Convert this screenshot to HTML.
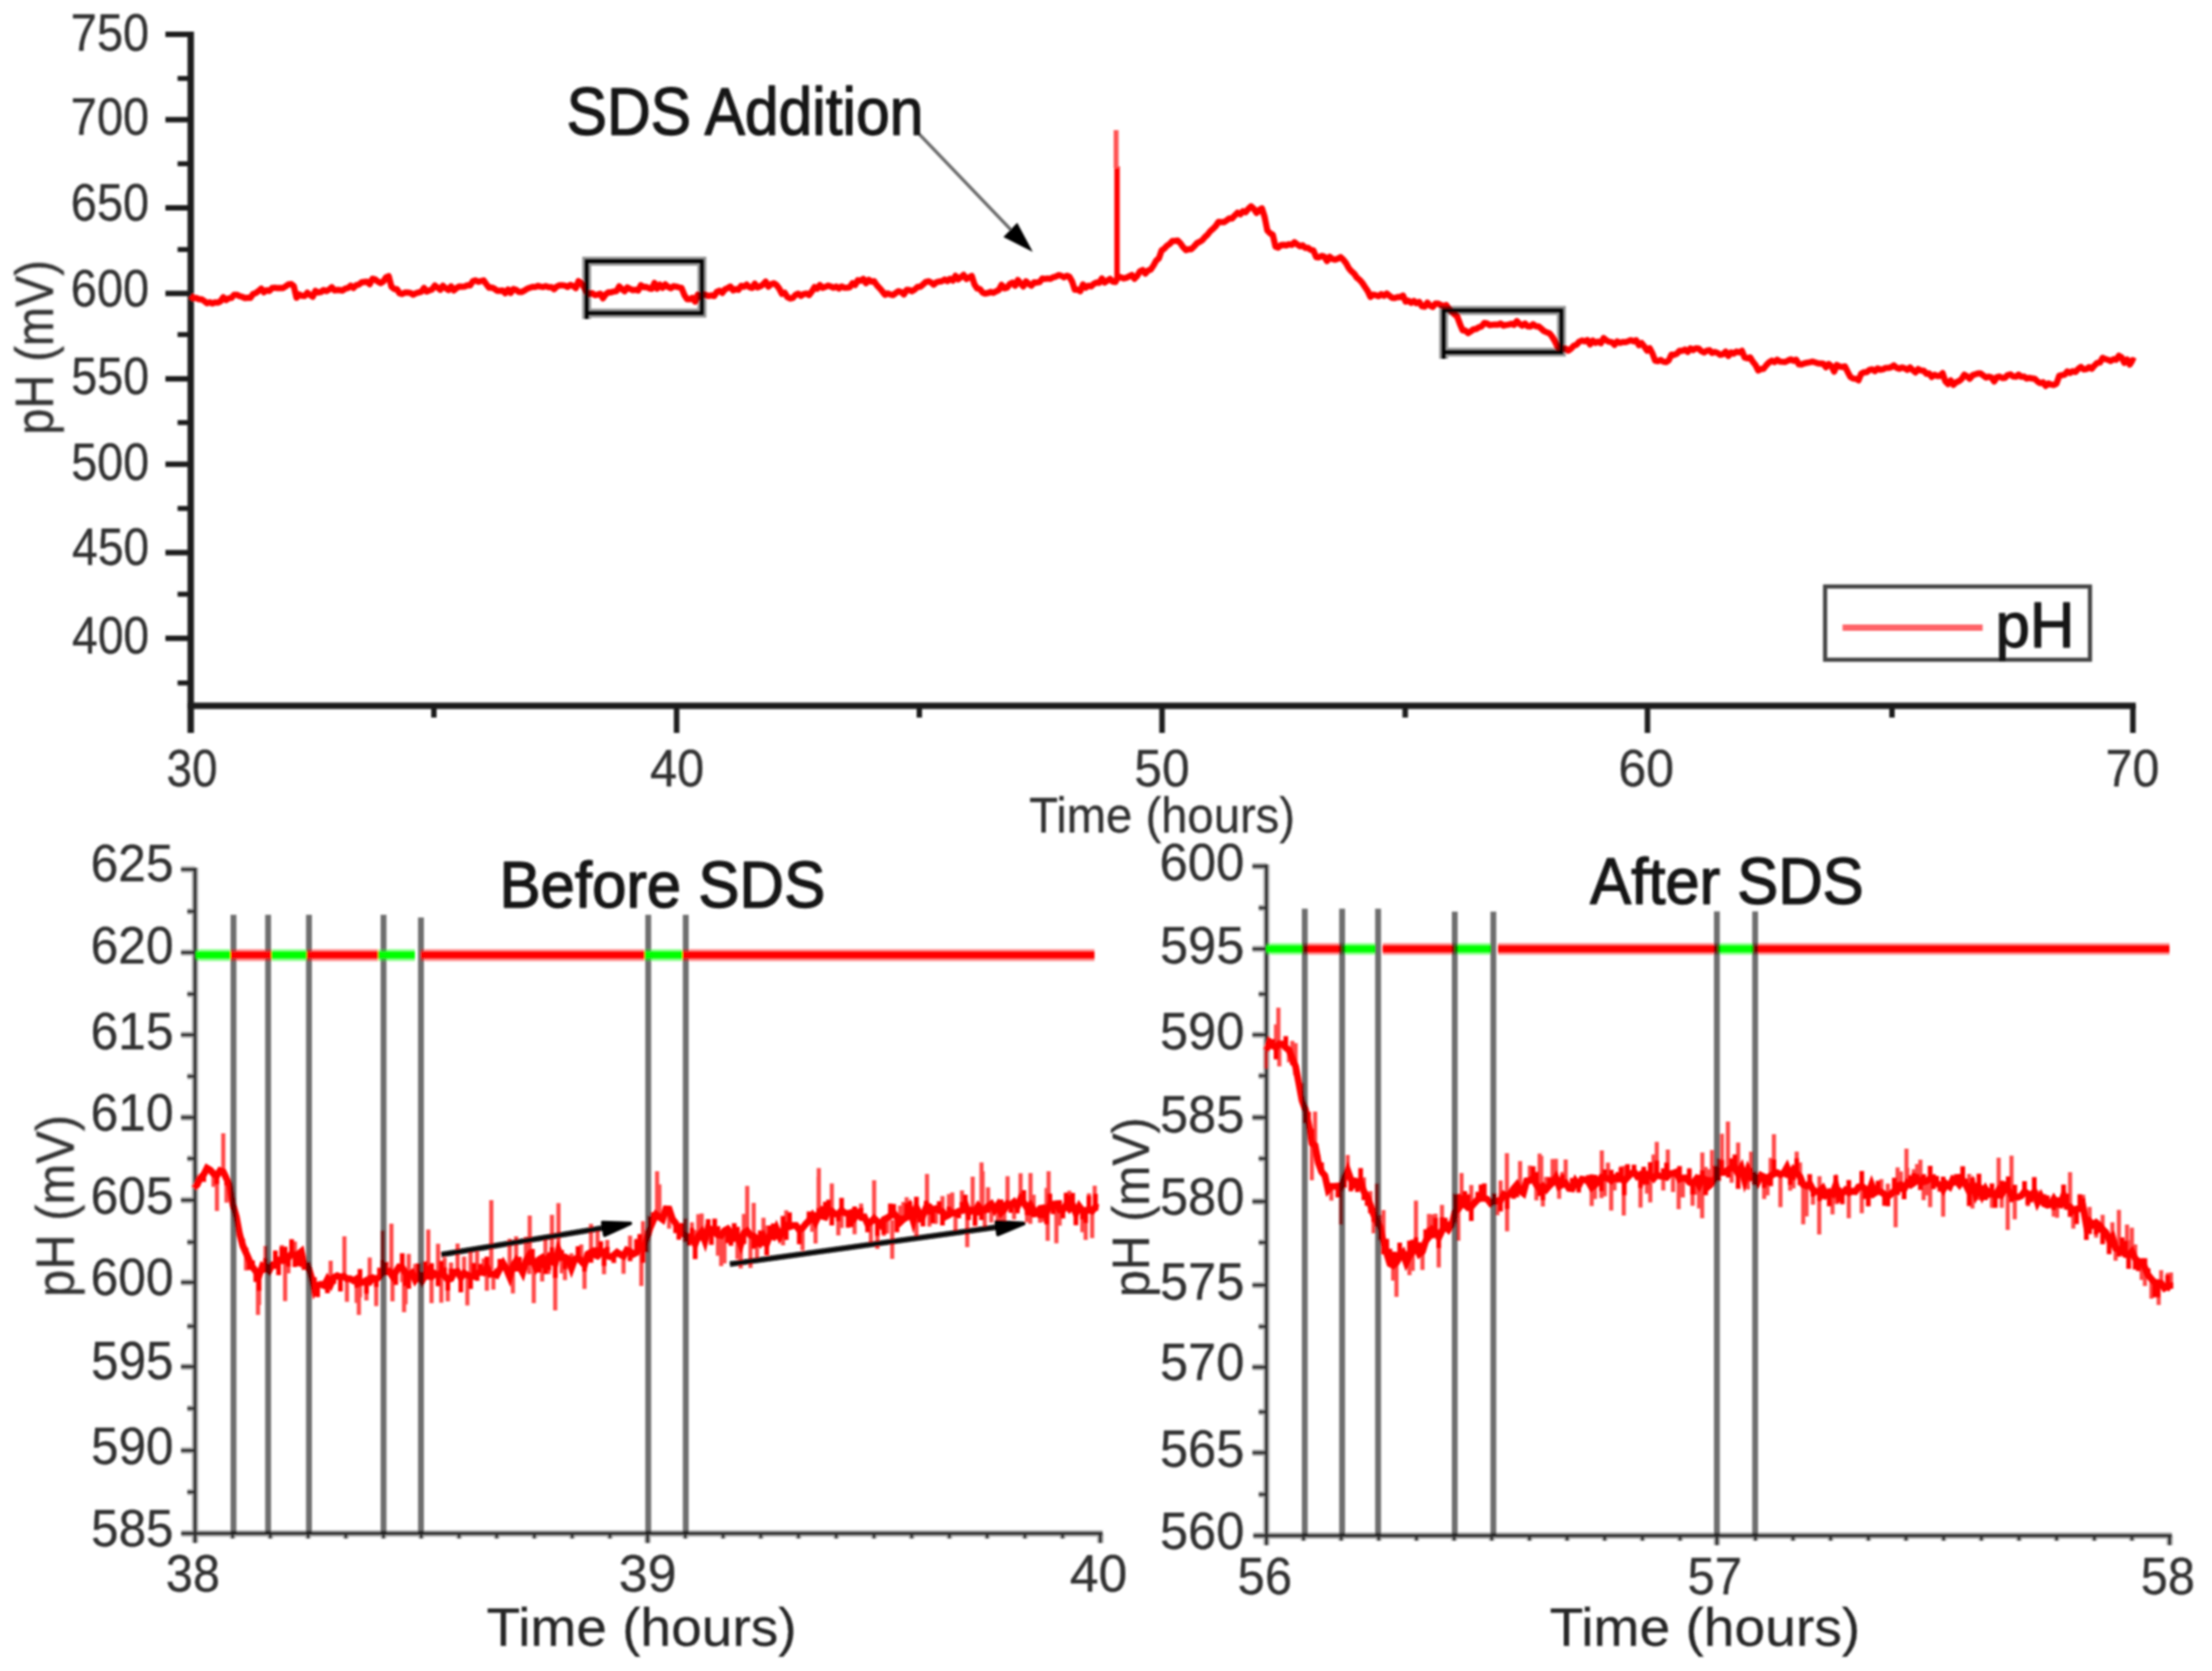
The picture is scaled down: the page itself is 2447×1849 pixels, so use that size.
<!DOCTYPE html>
<html lang="en"><head><meta charset="utf-8"><title>pH vs time with SDS addition</title>
<style>
html,body{margin:0;padding:0;background:#fff;}
body{width:2447px;height:1849px;overflow:hidden;font-family:"Liberation Sans",Arial,sans-serif;}
svg{display:block;}
</style></head><body>
<svg width="2447" height="1849" viewBox="0 0 2447 1849">
<defs><filter id="b" x="0" y="0" width="2447" height="1849" filterUnits="userSpaceOnUse"><feGaussianBlur stdDeviation="1.25"/></filter></defs>
<rect width="2447" height="1849" fill="#ffffff"/>
<g filter="url(#b)">
<g stroke="#1c1c1c" fill="none" stroke-linecap="butt">
<line x1="211" y1="35" x2="211" y2="811" stroke-width="7"/>
<line x1="207.5" y1="781" x2="2362.7" y2="781" stroke-width="7"/>
<line x1="183" y1="38" x2="211" y2="38" stroke-width="6"/>
<line x1="183" y1="132.4" x2="211" y2="132.4" stroke-width="6"/>
<line x1="183" y1="230" x2="211" y2="230" stroke-width="6"/>
<line x1="183" y1="324.7" x2="211" y2="324.7" stroke-width="6"/>
<line x1="183" y1="419.2" x2="211" y2="419.2" stroke-width="6"/>
<line x1="183" y1="513.7" x2="211" y2="513.7" stroke-width="6"/>
<line x1="183" y1="611.5" x2="211" y2="611.5" stroke-width="6"/>
<line x1="183" y1="706.3" x2="211" y2="706.3" stroke-width="6"/>
<line x1="196.5" y1="86.8" x2="211" y2="86.8" stroke-width="5.5"/>
<line x1="196.5" y1="181.2" x2="211" y2="181.2" stroke-width="5.5"/>
<line x1="196.5" y1="276.1" x2="211" y2="276.1" stroke-width="5.5"/>
<line x1="196.5" y1="370.2" x2="211" y2="370.2" stroke-width="5.5"/>
<line x1="196.5" y1="467.6" x2="211" y2="467.6" stroke-width="5.5"/>
<line x1="196.5" y1="562.6" x2="211" y2="562.6" stroke-width="5.5"/>
<line x1="196.5" y1="657.5" x2="211" y2="657.5" stroke-width="5.5"/>
<line x1="196.5" y1="755.7" x2="211" y2="755.7" stroke-width="5.5"/>
<line x1="748.5" y1="781" x2="748.5" y2="811" stroke-width="6"/>
<line x1="1285.5" y1="781" x2="1285.5" y2="811" stroke-width="6"/>
<line x1="1822.5" y1="781" x2="1822.5" y2="811" stroke-width="6"/>
<line x1="2359.5" y1="781" x2="2359.5" y2="811" stroke-width="6"/>
<line x1="480" y1="781" x2="480" y2="794" stroke-width="6"/>
<line x1="1017" y1="781" x2="1017" y2="794" stroke-width="6"/>
<line x1="1554.5" y1="781" x2="1554.5" y2="794" stroke-width="6"/>
<line x1="2093" y1="781" x2="2093" y2="794" stroke-width="6"/>
</g>
<polyline points="211.0,327.2 214.0,329.8 217.0,329.8 220.0,331.0 223.0,331.2 226.0,333.1 229.0,335.5 232.0,334.5 235.0,335.7 238.0,334.6 241.0,334.8 244.0,333.3 247.0,328.9 250.0,332.0 253.0,330.1 256.0,329.7 259.0,326.1 262.0,326.1 265.0,327.7 268.0,328.5 271.0,329.9 274.0,329.5 277.0,329.6 280.0,325.2 283.0,324.3 286.0,322.0 289.0,319.4 292.0,323.3 295.0,321.1 298.0,322.0 301.0,318.7 304.0,318.3 307.0,318.8 310.0,318.6 313.0,318.7 316.0,316.9 319.0,314.7 322.0,314.3 325.0,316.5 328.0,329.5 331.0,325.9 334.0,327.4 337.0,327.5 340.0,324.0 343.0,326.4 346.0,328.4 349.0,321.8 352.0,323.7 355.0,323.1 358.0,320.9 361.0,322.1 364.0,320.5 367.0,317.8 370.0,321.4 373.0,320.8 376.0,321.0 379.0,321.5 382.0,319.4 385.0,318.7 388.0,316.0 391.0,318.7 394.0,315.6 397.0,314.9 400.0,312.5 403.0,312.0 406.0,311.7 409.0,314.5 412.0,308.5 415.0,309.1 418.0,311.6 421.0,313.3 424.0,311.5 427.0,307.0 430.0,305.6 433.0,317.1 436.0,319.8 439.0,320.0 442.0,324.5 445.0,325.3 448.0,323.7 451.0,323.8 454.0,324.1 457.0,326.1 460.0,324.5 463.0,323.6 466.0,322.9 469.0,318.6 472.0,322.6 475.0,321.3 478.0,320.2 481.0,315.9 484.0,318.2 487.0,320.7 490.0,316.2 493.0,319.0 496.0,321.0 499.0,316.9 502.0,321.3 505.0,318.8 508.0,317.0 511.0,317.2 514.0,317.1 517.0,315.6 520.0,315.9 523.0,311.3 526.0,310.2 529.0,311.8 532.0,311.0 535.0,310.3 538.0,314.5 541.0,318.4 544.0,318.1 547.0,319.5 550.0,321.8 553.0,321.7 556.0,321.5 559.0,324.4 562.0,320.3 565.0,324.1 568.0,319.8 571.0,320.7 574.0,323.1 577.0,323.0 580.0,321.6 583.0,319.7 586.0,318.4 589.0,317.4 592.0,317.6 595.0,316.3 598.0,317.1 601.0,317.6 604.0,316.6 607.0,317.9 610.0,317.6 613.0,320.0 616.0,317.1 619.0,315.7 622.0,315.7 625.0,316.1 628.0,317.6 631.0,315.3 634.0,316.4 637.0,318.8 640.0,311.1 643.0,313.5 646.0,317.8 649.0,323.4 652.0,325.3 655.0,324.4 658.0,326.5 661.0,326.1 664.0,325.0 667.0,330.1 670.0,325.8 673.0,323.5 676.0,323.6 679.0,322.6 682.0,322.1 685.0,316.9 688.0,319.9 691.0,322.1 694.0,318.1 697.0,319.7 700.0,321.1 703.0,320.7 706.0,321.5 709.0,315.7 712.0,317.7 715.0,317.5 718.0,319.0 721.0,319.6 724.0,313.1 727.0,319.4 730.0,315.0 733.0,318.5 736.0,314.7 739.0,317.4 742.0,319.0 745.0,316.7 748.0,317.1 751.0,318.0 754.0,318.7 757.0,326.3 760.0,331.0 763.0,331.1 766.0,329.5 769.0,333.7 772.0,326.1 775.0,328.6 778.0,325.7 781.0,326.4 784.0,327.5 787.0,326.8 790.0,327.6 793.0,323.0 796.0,321.8 799.0,324.1 802.0,320.2 805.0,318.8 808.0,317.1 811.0,321.3 814.0,319.9 817.0,320.7 820.0,316.2 823.0,317.3 826.0,314.9 829.0,317.7 832.0,318.6 835.0,314.0 838.0,318.1 841.0,316.9 844.0,314.8 847.0,311.6 850.0,317.2 853.0,314.4 856.0,313.4 859.0,315.4 862.0,319.4 865.0,325.2 868.0,323.8 871.0,328.7 874.0,330.3 877.0,329.7 880.0,326.4 883.0,324.9 886.0,327.4 889.0,325.3 892.0,324.8 895.0,326.5 898.0,322.7 901.0,317.7 904.0,319.4 907.0,315.4 910.0,318.5 913.0,317.5 916.0,316.0 919.0,317.0 922.0,318.4 925.0,317.1 928.0,319.3 931.0,316.9 934.0,318.3 937.0,318.4 940.0,317.9 943.0,313.4 946.0,315.4 949.0,310.0 952.0,310.7 955.0,308.6 958.0,313.4 961.0,309.5 964.0,311.6 967.0,311.3 970.0,315.6 973.0,318.8 976.0,322.3 979.0,326.2 982.0,324.6 985.0,325.9 988.0,326.5 991.0,324.2 994.0,322.2 997.0,323.2 1000.0,325.8 1003.0,320.7 1006.0,321.0 1009.0,322.2 1012.0,320.3 1015.0,317.5 1018.0,317.4 1021.0,314.8 1024.0,312.1 1027.0,311.2 1030.0,312.6 1033.0,315.0 1036.0,312.3 1039.0,311.5 1042.0,311.2 1045.0,309.3 1048.0,311.0 1051.0,308.5 1054.0,310.5 1057.0,305.2 1060.0,309.1 1063.0,306.8 1066.0,304.2 1069.0,308.7 1072.0,307.0 1075.0,305.4 1078.0,314.8 1081.0,319.2 1084.0,319.8 1087.0,323.8 1090.0,324.9 1093.0,324.2 1096.0,323.0 1099.0,324.0 1102.0,322.3 1105.0,320.8 1108.0,315.2 1111.0,319.0 1114.0,318.4 1117.0,314.4 1120.0,312.8 1123.0,316.2 1126.0,309.9 1129.0,313.7 1132.0,317.0 1135.0,311.3 1138.0,314.1 1141.0,316.1 1144.0,312.5 1147.0,312.7 1150.0,312.2 1153.0,308.2 1156.0,308.6 1159.0,308.2 1162.0,308.6 1165.0,306.8 1168.0,306.1 1171.0,304.4 1174.0,305.1 1177.0,306.9 1180.0,305.1 1183.0,306.2 1186.0,311.5 1189.0,320.6 1192.0,320.5 1195.0,322.1 1198.0,314.7 1201.0,318.3 1204.0,316.2 1207.0,316.9 1210.0,314.1 1213.0,312.6 1216.0,313.0 1219.0,308.1 1222.0,312.6 1225.0,310.7 1228.0,308.6 1231.0,311.6 1234.0,312.0 1237.0,306.1 1240.0,306.9 1243.0,308.0 1246.0,307.4 1249.0,305.9 1252.0,304.4 1255.0,308.4 1258.0,305.3 1261.0,300.3 1264.0,298.8 1267.0,302.7 1270.0,299.4 1273.0,298.2 1276.0,293.9 1279.0,288.4 1282.0,285.8 1285.0,277.2 1288.0,275.1 1291.0,271.8 1294.0,269.9 1297.0,266.6 1300.0,266.5 1303.0,266.3 1306.0,269.4 1309.0,273.7 1312.0,276.8 1315.0,275.7 1318.0,275.7 1321.0,272.6 1324.0,269.2 1327.0,267.7 1330.0,265.8 1333.0,262.3 1336.0,259.4 1339.0,255.7 1342.0,253.1 1345.0,250.0 1348.0,245.4 1351.0,245.8 1354.0,245.8 1357.0,243.8 1360.0,241.7 1363.0,241.8 1366.0,238.4 1369.0,235.4 1372.0,237.1 1375.0,233.7 1378.0,234.9 1381.0,231.1 1384.0,228.4 1387.0,231.1 1390.0,235.6 1393.0,232.3 1396.0,230.6 1399.0,240.1 1402.0,255.1 1405.0,258.1 1408.0,259.7 1411.0,272.9 1414.0,273.9 1417.0,271.3 1420.0,271.0 1423.0,271.5 1426.0,270.3 1429.0,271.0 1432.0,268.1 1435.0,270.4 1438.0,272.5 1441.0,271.4 1444.0,274.4 1447.0,274.3 1450.0,276.5 1453.0,277.2 1456.0,284.5 1459.0,284.9 1462.0,283.1 1465.0,284.1 1468.0,288.8 1471.0,284.2 1474.0,286.7 1477.0,287.4 1480.0,286.2 1483.0,284.6 1486.0,287.3 1489.0,291.2 1492.0,296.7 1495.0,300.2 1498.0,302.8 1501.0,307.2 1504.0,309.6 1507.0,313.0 1510.0,317.6 1513.0,322.0 1516.0,328.5 1519.0,326.0 1522.0,326.7 1525.0,327.8 1528.0,325.4 1531.0,327.3 1534.0,324.8 1537.0,327.2 1540.0,329.5 1543.0,329.7 1546.0,328.8 1549.0,328.7 1552.0,327.0 1555.0,333.8 1558.0,332.8 1561.0,335.1 1564.0,333.0 1567.0,335.5 1570.0,334.0 1573.0,338.8 1576.0,339.4 1579.0,334.8 1582.0,338.2 1585.0,339.7 1588.0,335.9 1591.0,336.0 1594.0,337.6 1597.0,338.6 1600.0,337.6 1603.0,342.1 1606.0,344.8 1609.0,347.8 1612.0,350.2 1615.0,358.3 1618.0,365.5 1621.0,365.8 1624.0,368.6 1627.0,366.6 1630.0,364.4 1633.0,364.0 1636.0,362.1 1639.0,361.2 1642.0,357.5 1645.0,358.0 1648.0,359.9 1651.0,359.4 1654.0,359.1 1657.0,359.3 1660.0,358.0 1663.0,360.3 1666.0,359.6 1669.0,359.1 1672.0,358.3 1675.0,359.4 1678.0,355.3 1681.0,358.4 1684.0,360.4 1687.0,358.0 1690.0,361.1 1693.0,361.2 1696.0,358.8 1699.0,361.0 1702.0,361.1 1705.0,363.7 1708.0,366.4 1711.0,367.7 1714.0,368.7 1717.0,372.4 1720.0,377.4 1723.0,383.7 1726.0,386.8 1729.0,385.9 1732.0,385.6 1735.0,388.0 1738.0,385.8 1741.0,382.5 1744.0,381.5 1747.0,378.1 1750.0,376.8 1753.0,377.7 1756.0,376.3 1759.0,381.1 1762.0,376.8 1765.0,379.4 1768.0,377.9 1771.0,379.7 1774.0,374.0 1777.0,376.6 1780.0,378.2 1783.0,378.6 1786.0,381.5 1789.0,377.9 1792.0,379.4 1795.0,378.4 1798.0,378.6 1801.0,377.7 1804.0,376.4 1807.0,377.7 1810.0,376.5 1813.0,381.9 1816.0,379.6 1819.0,383.3 1822.0,388.0 1825.0,385.5 1828.0,391.1 1831.0,399.1 1834.0,399.7 1837.0,398.3 1840.0,400.1 1843.0,400.7 1846.0,398.9 1849.0,392.4 1852.0,392.7 1855.0,391.4 1858.0,388.2 1861.0,388.3 1864.0,386.7 1867.0,389.4 1870.0,385.5 1873.0,387.4 1876.0,385.5 1879.0,385.6 1882.0,388.5 1885.0,390.0 1888.0,388.2 1891.0,387.5 1894.0,390.5 1897.0,389.5 1900.0,390.5 1903.0,392.6 1906.0,391.9 1909.0,389.1 1912.0,393.9 1915.0,390.0 1918.0,391.3 1921.0,388.9 1924.0,389.9 1927.0,388.2 1930.0,395.7 1933.0,396.5 1936.0,395.4 1939.0,400.3 1942.0,403.9 1945.0,409.9 1948.0,408.4 1951.0,408.0 1954.0,404.0 1957.0,401.0 1960.0,399.1 1963.0,400.7 1966.0,398.0 1969.0,400.1 1972.0,400.4 1975.0,400.5 1978.0,399.0 1981.0,397.6 1984.0,399.2 1987.0,398.1 1990.0,403.1 1993.0,403.2 1996.0,402.1 1999.0,401.3 2002.0,400.8 2005.0,400.2 2008.0,401.0 2011.0,402.0 2014.0,402.2 2017.0,402.5 2020.0,406.3 2023.0,402.8 2026.0,405.2 2029.0,411.2 2032.0,403.9 2035.0,405.6 2038.0,406.1 2041.0,405.4 2044.0,411.6 2047.0,417.1 2050.0,418.9 2053.0,419.1 2056.0,420.8 2059.0,413.3 2062.0,412.0 2065.0,411.8 2068.0,409.3 2071.0,408.6 2074.0,410.7 2077.0,407.7 2080.0,409.2 2083.0,408.6 2086.0,407.1 2089.0,407.1 2092.0,406.3 2095.0,404.3 2098.0,406.9 2101.0,408.0 2104.0,406.6 2107.0,407.5 2110.0,409.2 2113.0,406.7 2116.0,409.6 2119.0,412.0 2122.0,408.4 2125.0,410.1 2128.0,410.1 2131.0,413.5 2134.0,413.2 2137.0,417.1 2140.0,414.8 2143.0,416.0 2146.0,416.0 2149.0,413.0 2152.0,421.8 2155.0,425.0 2158.0,421.0 2161.0,425.8 2164.0,423.0 2167.0,421.8 2170.0,419.3 2173.0,414.6 2176.0,416.5 2179.0,419.1 2182.0,415.3 2185.0,414.2 2188.0,413.3 2191.0,413.3 2194.0,415.6 2197.0,417.8 2200.0,416.8 2203.0,417.6 2206.0,422.1 2209.0,417.3 2212.0,416.7 2215.0,418.3 2218.0,418.0 2221.0,415.0 2224.0,414.3 2227.0,416.6 2230.0,416.9 2233.0,414.6 2236.0,416.9 2239.0,416.7 2242.0,418.8 2245.0,418.1 2248.0,418.8 2251.0,419.1 2254.0,422.2 2257.0,423.9 2260.0,422.9 2263.0,427.0 2266.0,424.3 2269.0,425.4 2272.0,426.1 2275.0,424.4 2278.0,415.9 2281.0,415.1 2284.0,414.7 2287.0,411.0 2290.0,412.7 2293.0,410.7 2296.0,411.6 2299.0,408.3 2302.0,406.1 2305.0,408.8 2308.0,408.4 2311.0,406.3 2314.0,408.0 2317.0,404.4 2320.0,401.6 2323.0,401.2 2326.0,396.0 2329.0,397.3 2332.0,398.2 2335.0,399.5 2338.0,397.5 2341.0,398.1 2344.0,393.6 2347.0,395.4 2350.0,401.5 2353.0,397.8 2356.0,403.3 2359.0,398.5 2362.0,399.9" fill="none" stroke="#ff0000" stroke-width="6.9" stroke-linejoin="round"/>
<line x1="1235.7" y1="310" x2="1235.7" y2="184" stroke="#ff0000" stroke-width="6"/>
<line x1="1234.7" y1="186" x2="1234.7" y2="144" stroke="#ff5555" stroke-width="5.5"/>
<g stroke="#000000" stroke-opacity="0.42" fill="none" stroke-width="9.8">
<path d="M649,353 V289 H776.5 V346.5 H649"/>
<path d="M1597,397 V343.5 H1727.3 V389.7 H1597"/>
</g>
<g stroke="#050505" stroke-opacity="1" fill="none" stroke-width="3.9">
<path d="M649,353 V289 H776.5 V346.5 H649"/>
<path d="M1597,397 V343.5 H1727.3 V389.7 H1597"/>
</g>
<line x1="1016" y1="147.5" x2="1119" y2="255" stroke="#6a6a6a" stroke-width="3.6"/>
<polygon points="1142.5,278.8 1110,262.3 1125.3,246.5" fill="#050505"/>
<rect x="2019" y="649" width="293" height="81" fill="none" stroke="#444" stroke-width="4.6"/>
<line x1="2038.3" y1="694.6" x2="2193.3" y2="694.6" stroke="#ff6468" stroke-width="7"/>
<g stroke="#b8b8b8" fill="none">
<line x1="215.8" y1="960" x2="215.8" y2="1707.3" stroke-width="7.3"/>
<line x1="200.5" y1="1696.8" x2="1219.7" y2="1696.8" stroke-width="7.3"/>
<line x1="200.3" y1="962" x2="215.8" y2="962" stroke-width="7.199999999999999"/>
<line x1="200.3" y1="1054" x2="215.8" y2="1054" stroke-width="7.199999999999999"/>
<line x1="200.3" y1="1145.1" x2="215.8" y2="1145.1" stroke-width="7.199999999999999"/>
<line x1="200.3" y1="1236.5" x2="215.8" y2="1236.5" stroke-width="7.199999999999999"/>
<line x1="200.3" y1="1328" x2="215.8" y2="1328" stroke-width="7.199999999999999"/>
<line x1="200.3" y1="1419" x2="215.8" y2="1419" stroke-width="7.199999999999999"/>
<line x1="200.3" y1="1512.3" x2="215.8" y2="1512.3" stroke-width="7.199999999999999"/>
<line x1="200.3" y1="1605" x2="215.8" y2="1605" stroke-width="7.199999999999999"/>
<line x1="207.3" y1="1008.5" x2="215.8" y2="1008.5" stroke-width="7.0"/>
<line x1="207.3" y1="1100" x2="215.8" y2="1100" stroke-width="7.0"/>
<line x1="207.3" y1="1191" x2="215.8" y2="1191" stroke-width="7.0"/>
<line x1="207.3" y1="1282" x2="215.8" y2="1282" stroke-width="7.0"/>
<line x1="207.3" y1="1374.5" x2="215.8" y2="1374.5" stroke-width="7.0"/>
<line x1="207.3" y1="1467.5" x2="215.8" y2="1467.5" stroke-width="7.0"/>
<line x1="207.3" y1="1558.5" x2="215.8" y2="1558.5" stroke-width="7.0"/>
<line x1="207.3" y1="1651" x2="215.8" y2="1651" stroke-width="7.0"/>
<line x1="716.4" y1="1696.8" x2="716.4" y2="1707.3" stroke-width="7.3"/>
<line x1="1217.2" y1="1696.8" x2="1217.2" y2="1707.3" stroke-width="7.3"/>
<line x1="257.3333333333333" y1="1696.8" x2="257.3333333333333" y2="1702.3" stroke-width="7.0"/>
<line x1="299.06666666666666" y1="1696.8" x2="299.06666666666666" y2="1702.3" stroke-width="7.0"/>
<line x1="340.8" y1="1696.8" x2="340.8" y2="1702.3" stroke-width="7.0"/>
<line x1="382.5333333333333" y1="1696.8" x2="382.5333333333333" y2="1702.3" stroke-width="7.0"/>
<line x1="424.26666666666665" y1="1696.8" x2="424.26666666666665" y2="1702.3" stroke-width="7.0"/>
<line x1="466.0" y1="1696.8" x2="466.0" y2="1702.3" stroke-width="7.0"/>
<line x1="507.73333333333335" y1="1696.8" x2="507.73333333333335" y2="1702.3" stroke-width="7.0"/>
<line x1="549.4666666666667" y1="1696.8" x2="549.4666666666667" y2="1702.3" stroke-width="7.0"/>
<line x1="591.2" y1="1696.8" x2="591.2" y2="1702.3" stroke-width="7.0"/>
<line x1="632.9333333333334" y1="1696.8" x2="632.9333333333334" y2="1702.3" stroke-width="7.0"/>
<line x1="674.6666666666666" y1="1696.8" x2="674.6666666666666" y2="1702.3" stroke-width="7.0"/>
<line x1="758.1333333333333" y1="1696.8" x2="758.1333333333333" y2="1702.3" stroke-width="7.0"/>
<line x1="799.8666666666667" y1="1696.8" x2="799.8666666666667" y2="1702.3" stroke-width="7.0"/>
<line x1="841.6" y1="1696.8" x2="841.6" y2="1702.3" stroke-width="7.0"/>
<line x1="883.3333333333334" y1="1696.8" x2="883.3333333333334" y2="1702.3" stroke-width="7.0"/>
<line x1="925.0666666666667" y1="1696.8" x2="925.0666666666667" y2="1702.3" stroke-width="7.0"/>
<line x1="966.8000000000001" y1="1696.8" x2="966.8000000000001" y2="1702.3" stroke-width="7.0"/>
<line x1="1008.5333333333334" y1="1696.8" x2="1008.5333333333334" y2="1702.3" stroke-width="7.0"/>
<line x1="1050.2666666666667" y1="1696.8" x2="1050.2666666666667" y2="1702.3" stroke-width="7.0"/>
<line x1="1092.0" y1="1696.8" x2="1092.0" y2="1702.3" stroke-width="7.0"/>
<line x1="1133.7333333333333" y1="1696.8" x2="1133.7333333333333" y2="1702.3" stroke-width="7.0"/>
<line x1="1175.4666666666667" y1="1696.8" x2="1175.4666666666667" y2="1702.3" stroke-width="7.0"/>
</g>
<g stroke="#333333" fill="none">
<line x1="215.8" y1="960" x2="215.8" y2="1707.3" stroke-width="3.9"/>
<line x1="200.5" y1="1696.8" x2="1219.7" y2="1696.8" stroke-width="3.9"/>
<line x1="200.3" y1="962" x2="215.8" y2="962" stroke-width="3.8"/>
<line x1="200.3" y1="1054" x2="215.8" y2="1054" stroke-width="3.8"/>
<line x1="200.3" y1="1145.1" x2="215.8" y2="1145.1" stroke-width="3.8"/>
<line x1="200.3" y1="1236.5" x2="215.8" y2="1236.5" stroke-width="3.8"/>
<line x1="200.3" y1="1328" x2="215.8" y2="1328" stroke-width="3.8"/>
<line x1="200.3" y1="1419" x2="215.8" y2="1419" stroke-width="3.8"/>
<line x1="200.3" y1="1512.3" x2="215.8" y2="1512.3" stroke-width="3.8"/>
<line x1="200.3" y1="1605" x2="215.8" y2="1605" stroke-width="3.8"/>
<line x1="207.3" y1="1008.5" x2="215.8" y2="1008.5" stroke-width="3.6"/>
<line x1="207.3" y1="1100" x2="215.8" y2="1100" stroke-width="3.6"/>
<line x1="207.3" y1="1191" x2="215.8" y2="1191" stroke-width="3.6"/>
<line x1="207.3" y1="1282" x2="215.8" y2="1282" stroke-width="3.6"/>
<line x1="207.3" y1="1374.5" x2="215.8" y2="1374.5" stroke-width="3.6"/>
<line x1="207.3" y1="1467.5" x2="215.8" y2="1467.5" stroke-width="3.6"/>
<line x1="207.3" y1="1558.5" x2="215.8" y2="1558.5" stroke-width="3.6"/>
<line x1="207.3" y1="1651" x2="215.8" y2="1651" stroke-width="3.6"/>
<line x1="716.4" y1="1696.8" x2="716.4" y2="1707.3" stroke-width="3.9"/>
<line x1="1217.2" y1="1696.8" x2="1217.2" y2="1707.3" stroke-width="3.9"/>
<line x1="257.3333333333333" y1="1696.8" x2="257.3333333333333" y2="1702.3" stroke-width="3.6"/>
<line x1="299.06666666666666" y1="1696.8" x2="299.06666666666666" y2="1702.3" stroke-width="3.6"/>
<line x1="340.8" y1="1696.8" x2="340.8" y2="1702.3" stroke-width="3.6"/>
<line x1="382.5333333333333" y1="1696.8" x2="382.5333333333333" y2="1702.3" stroke-width="3.6"/>
<line x1="424.26666666666665" y1="1696.8" x2="424.26666666666665" y2="1702.3" stroke-width="3.6"/>
<line x1="466.0" y1="1696.8" x2="466.0" y2="1702.3" stroke-width="3.6"/>
<line x1="507.73333333333335" y1="1696.8" x2="507.73333333333335" y2="1702.3" stroke-width="3.6"/>
<line x1="549.4666666666667" y1="1696.8" x2="549.4666666666667" y2="1702.3" stroke-width="3.6"/>
<line x1="591.2" y1="1696.8" x2="591.2" y2="1702.3" stroke-width="3.6"/>
<line x1="632.9333333333334" y1="1696.8" x2="632.9333333333334" y2="1702.3" stroke-width="3.6"/>
<line x1="674.6666666666666" y1="1696.8" x2="674.6666666666666" y2="1702.3" stroke-width="3.6"/>
<line x1="758.1333333333333" y1="1696.8" x2="758.1333333333333" y2="1702.3" stroke-width="3.6"/>
<line x1="799.8666666666667" y1="1696.8" x2="799.8666666666667" y2="1702.3" stroke-width="3.6"/>
<line x1="841.6" y1="1696.8" x2="841.6" y2="1702.3" stroke-width="3.6"/>
<line x1="883.3333333333334" y1="1696.8" x2="883.3333333333334" y2="1702.3" stroke-width="3.6"/>
<line x1="925.0666666666667" y1="1696.8" x2="925.0666666666667" y2="1702.3" stroke-width="3.6"/>
<line x1="966.8000000000001" y1="1696.8" x2="966.8000000000001" y2="1702.3" stroke-width="3.6"/>
<line x1="1008.5333333333334" y1="1696.8" x2="1008.5333333333334" y2="1702.3" stroke-width="3.6"/>
<line x1="1050.2666666666667" y1="1696.8" x2="1050.2666666666667" y2="1702.3" stroke-width="3.6"/>
<line x1="1092.0" y1="1696.8" x2="1092.0" y2="1702.3" stroke-width="3.6"/>
<line x1="1133.7333333333333" y1="1696.8" x2="1133.7333333333333" y2="1702.3" stroke-width="3.6"/>
<line x1="1175.4666666666667" y1="1696.8" x2="1175.4666666666667" y2="1702.3" stroke-width="3.6"/>
</g>
<g stroke="#b8b8b8" fill="none">
<line x1="1401" y1="956.5" x2="1401" y2="1709.7" stroke-width="7.3"/>
<line x1="1386.5" y1="1699.2" x2="2402.6" y2="1699.2" stroke-width="7.3"/>
<line x1="1385.5" y1="958.5" x2="1401" y2="958.5" stroke-width="7.199999999999999"/>
<line x1="1385.5" y1="1050" x2="1401" y2="1050" stroke-width="7.199999999999999"/>
<line x1="1385.5" y1="1145.1" x2="1401" y2="1145.1" stroke-width="7.199999999999999"/>
<line x1="1385.5" y1="1236.5" x2="1401" y2="1236.5" stroke-width="7.199999999999999"/>
<line x1="1385.5" y1="1329.5" x2="1401" y2="1329.5" stroke-width="7.199999999999999"/>
<line x1="1385.5" y1="1422" x2="1401" y2="1422" stroke-width="7.199999999999999"/>
<line x1="1385.5" y1="1512.8" x2="1401" y2="1512.8" stroke-width="7.199999999999999"/>
<line x1="1385.5" y1="1607.5" x2="1401" y2="1607.5" stroke-width="7.199999999999999"/>
<line x1="1392.5" y1="1004.6" x2="1401" y2="1004.6" stroke-width="7.0"/>
<line x1="1392.5" y1="1100" x2="1401" y2="1100" stroke-width="7.0"/>
<line x1="1392.5" y1="1190.4" x2="1401" y2="1190.4" stroke-width="7.0"/>
<line x1="1392.5" y1="1282" x2="1401" y2="1282" stroke-width="7.0"/>
<line x1="1392.5" y1="1374.8" x2="1401" y2="1374.8" stroke-width="7.0"/>
<line x1="1392.5" y1="1467.8" x2="1401" y2="1467.8" stroke-width="7.0"/>
<line x1="1392.5" y1="1562.4" x2="1401" y2="1562.4" stroke-width="7.0"/>
<line x1="1392.5" y1="1653.6" x2="1401" y2="1653.6" stroke-width="7.0"/>
<line x1="1899.3" y1="1699.2" x2="1899.3" y2="1709.7" stroke-width="7.3"/>
<line x1="2400.1" y1="1699.2" x2="2400.1" y2="1709.7" stroke-width="7.3"/>
<line x1="1441.9583333333333" y1="1699.2" x2="1441.9583333333333" y2="1704.7" stroke-width="7.0"/>
<line x1="1483.6166666666666" y1="1699.2" x2="1483.6166666666666" y2="1704.7" stroke-width="7.0"/>
<line x1="1525.2749999999999" y1="1699.2" x2="1525.2749999999999" y2="1704.7" stroke-width="7.0"/>
<line x1="1566.9333333333334" y1="1699.2" x2="1566.9333333333334" y2="1704.7" stroke-width="7.0"/>
<line x1="1608.5916666666667" y1="1699.2" x2="1608.5916666666667" y2="1704.7" stroke-width="7.0"/>
<line x1="1650.25" y1="1699.2" x2="1650.25" y2="1704.7" stroke-width="7.0"/>
<line x1="1691.9083333333333" y1="1699.2" x2="1691.9083333333333" y2="1704.7" stroke-width="7.0"/>
<line x1="1733.5666666666666" y1="1699.2" x2="1733.5666666666666" y2="1704.7" stroke-width="7.0"/>
<line x1="1775.225" y1="1699.2" x2="1775.225" y2="1704.7" stroke-width="7.0"/>
<line x1="1816.8833333333332" y1="1699.2" x2="1816.8833333333332" y2="1704.7" stroke-width="7.0"/>
<line x1="1858.5416666666665" y1="1699.2" x2="1858.5416666666665" y2="1704.7" stroke-width="7.0"/>
<line x1="1941.8583333333331" y1="1699.2" x2="1941.8583333333331" y2="1704.7" stroke-width="7.0"/>
<line x1="1983.5166666666667" y1="1699.2" x2="1983.5166666666667" y2="1704.7" stroke-width="7.0"/>
<line x1="2025.175" y1="1699.2" x2="2025.175" y2="1704.7" stroke-width="7.0"/>
<line x1="2066.833333333333" y1="1699.2" x2="2066.833333333333" y2="1704.7" stroke-width="7.0"/>
<line x1="2108.491666666667" y1="1699.2" x2="2108.491666666667" y2="1704.7" stroke-width="7.0"/>
<line x1="2150.1499999999996" y1="1699.2" x2="2150.1499999999996" y2="1704.7" stroke-width="7.0"/>
<line x1="2191.8083333333334" y1="1699.2" x2="2191.8083333333334" y2="1704.7" stroke-width="7.0"/>
<line x1="2233.4666666666667" y1="1699.2" x2="2233.4666666666667" y2="1704.7" stroke-width="7.0"/>
<line x1="2275.125" y1="1699.2" x2="2275.125" y2="1704.7" stroke-width="7.0"/>
<line x1="2316.7833333333333" y1="1699.2" x2="2316.7833333333333" y2="1704.7" stroke-width="7.0"/>
<line x1="2358.4416666666666" y1="1699.2" x2="2358.4416666666666" y2="1704.7" stroke-width="7.0"/>
</g>
<g stroke="#333333" fill="none">
<line x1="1401" y1="956.5" x2="1401" y2="1709.7" stroke-width="3.9"/>
<line x1="1386.5" y1="1699.2" x2="2402.6" y2="1699.2" stroke-width="3.9"/>
<line x1="1385.5" y1="958.5" x2="1401" y2="958.5" stroke-width="3.8"/>
<line x1="1385.5" y1="1050" x2="1401" y2="1050" stroke-width="3.8"/>
<line x1="1385.5" y1="1145.1" x2="1401" y2="1145.1" stroke-width="3.8"/>
<line x1="1385.5" y1="1236.5" x2="1401" y2="1236.5" stroke-width="3.8"/>
<line x1="1385.5" y1="1329.5" x2="1401" y2="1329.5" stroke-width="3.8"/>
<line x1="1385.5" y1="1422" x2="1401" y2="1422" stroke-width="3.8"/>
<line x1="1385.5" y1="1512.8" x2="1401" y2="1512.8" stroke-width="3.8"/>
<line x1="1385.5" y1="1607.5" x2="1401" y2="1607.5" stroke-width="3.8"/>
<line x1="1392.5" y1="1004.6" x2="1401" y2="1004.6" stroke-width="3.6"/>
<line x1="1392.5" y1="1100" x2="1401" y2="1100" stroke-width="3.6"/>
<line x1="1392.5" y1="1190.4" x2="1401" y2="1190.4" stroke-width="3.6"/>
<line x1="1392.5" y1="1282" x2="1401" y2="1282" stroke-width="3.6"/>
<line x1="1392.5" y1="1374.8" x2="1401" y2="1374.8" stroke-width="3.6"/>
<line x1="1392.5" y1="1467.8" x2="1401" y2="1467.8" stroke-width="3.6"/>
<line x1="1392.5" y1="1562.4" x2="1401" y2="1562.4" stroke-width="3.6"/>
<line x1="1392.5" y1="1653.6" x2="1401" y2="1653.6" stroke-width="3.6"/>
<line x1="1899.3" y1="1699.2" x2="1899.3" y2="1709.7" stroke-width="3.9"/>
<line x1="2400.1" y1="1699.2" x2="2400.1" y2="1709.7" stroke-width="3.9"/>
<line x1="1441.9583333333333" y1="1699.2" x2="1441.9583333333333" y2="1704.7" stroke-width="3.6"/>
<line x1="1483.6166666666666" y1="1699.2" x2="1483.6166666666666" y2="1704.7" stroke-width="3.6"/>
<line x1="1525.2749999999999" y1="1699.2" x2="1525.2749999999999" y2="1704.7" stroke-width="3.6"/>
<line x1="1566.9333333333334" y1="1699.2" x2="1566.9333333333334" y2="1704.7" stroke-width="3.6"/>
<line x1="1608.5916666666667" y1="1699.2" x2="1608.5916666666667" y2="1704.7" stroke-width="3.6"/>
<line x1="1650.25" y1="1699.2" x2="1650.25" y2="1704.7" stroke-width="3.6"/>
<line x1="1691.9083333333333" y1="1699.2" x2="1691.9083333333333" y2="1704.7" stroke-width="3.6"/>
<line x1="1733.5666666666666" y1="1699.2" x2="1733.5666666666666" y2="1704.7" stroke-width="3.6"/>
<line x1="1775.225" y1="1699.2" x2="1775.225" y2="1704.7" stroke-width="3.6"/>
<line x1="1816.8833333333332" y1="1699.2" x2="1816.8833333333332" y2="1704.7" stroke-width="3.6"/>
<line x1="1858.5416666666665" y1="1699.2" x2="1858.5416666666665" y2="1704.7" stroke-width="3.6"/>
<line x1="1941.8583333333331" y1="1699.2" x2="1941.8583333333331" y2="1704.7" stroke-width="3.6"/>
<line x1="1983.5166666666667" y1="1699.2" x2="1983.5166666666667" y2="1704.7" stroke-width="3.6"/>
<line x1="2025.175" y1="1699.2" x2="2025.175" y2="1704.7" stroke-width="3.6"/>
<line x1="2066.833333333333" y1="1699.2" x2="2066.833333333333" y2="1704.7" stroke-width="3.6"/>
<line x1="2108.491666666667" y1="1699.2" x2="2108.491666666667" y2="1704.7" stroke-width="3.6"/>
<line x1="2150.1499999999996" y1="1699.2" x2="2150.1499999999996" y2="1704.7" stroke-width="3.6"/>
<line x1="2191.8083333333334" y1="1699.2" x2="2191.8083333333334" y2="1704.7" stroke-width="3.6"/>
<line x1="2233.4666666666667" y1="1699.2" x2="2233.4666666666667" y2="1704.7" stroke-width="3.6"/>
<line x1="2275.125" y1="1699.2" x2="2275.125" y2="1704.7" stroke-width="3.6"/>
<line x1="2316.7833333333333" y1="1699.2" x2="2316.7833333333333" y2="1704.7" stroke-width="3.6"/>
<line x1="2358.4416666666666" y1="1699.2" x2="2358.4416666666666" y2="1704.7" stroke-width="3.6"/>
</g>
<line x1="1400.5" y1="1050.0" x2="1441.7" y2="1050.0" stroke="#00ff00" stroke-opacity="0.45" stroke-width="13.2"/>
<line x1="1441.7" y1="1050.0" x2="1484.5" y2="1050.0" stroke="#ff0000" stroke-opacity="0.45" stroke-width="13.2"/>
<line x1="1484.5" y1="1050.0" x2="1522" y2="1050.0" stroke="#00ff00" stroke-opacity="0.45" stroke-width="13.2"/>
<line x1="1529.5" y1="1050.0" x2="1609" y2="1050.0" stroke="#ff0000" stroke-opacity="0.45" stroke-width="13.2"/>
<line x1="1609" y1="1050.0" x2="1649.5" y2="1050.0" stroke="#00ff00" stroke-opacity="0.45" stroke-width="13.2"/>
<line x1="1657" y1="1050.0" x2="1900" y2="1050.0" stroke="#ff0000" stroke-opacity="0.45" stroke-width="13.2"/>
<line x1="1900" y1="1050.0" x2="1940" y2="1050.0" stroke="#00ff00" stroke-opacity="0.45" stroke-width="13.2"/>
<line x1="1940" y1="1050.0" x2="2400" y2="1050.0" stroke="#ff0000" stroke-opacity="0.45" stroke-width="13.2"/>
<line x1="1400.5" y1="1050.0" x2="1441.7" y2="1050.0" stroke="#00ff00" stroke-width="7.4"/>
<line x1="1441.7" y1="1050.0" x2="1484.5" y2="1050.0" stroke="#ff0000" stroke-width="7.4"/>
<line x1="1484.5" y1="1050.0" x2="1522" y2="1050.0" stroke="#00ff00" stroke-width="7.4"/>
<line x1="1529.5" y1="1050.0" x2="1609" y2="1050.0" stroke="#ff0000" stroke-width="7.4"/>
<line x1="1609" y1="1050.0" x2="1649.5" y2="1050.0" stroke="#00ff00" stroke-width="7.4"/>
<line x1="1657" y1="1050.0" x2="1900" y2="1050.0" stroke="#ff0000" stroke-width="7.4"/>
<line x1="1900" y1="1050.0" x2="1940" y2="1050.0" stroke="#00ff00" stroke-width="7.4"/>
<line x1="1940" y1="1050.0" x2="2400" y2="1050.0" stroke="#ff0000" stroke-width="7.4"/>
<polyline points="214.6,1315.2 218.2,1310.7 221.8,1302.6 225.4,1299.7 229.0,1292.6 232.6,1294.7 236.2,1298.8 239.8,1301.0 243.4,1295.4 247.0,1296.7 250.6,1304.2 254.2,1310.8 257.8,1333.4 261.4,1346.4 265.0,1365.6 268.6,1378.4 272.2,1386.4 275.8,1394.5 279.4,1402.0 283.0,1406.7 286.6,1411.3 290.2,1401.1 293.8,1403.7 297.4,1406.7 301.0,1399.5 304.6,1400.3 308.2,1394.2 311.8,1395.0 315.4,1394.9 319.0,1391.7 322.6,1387.1 326.2,1389.0 329.8,1387.8 333.4,1384.8 337.0,1401.0 340.6,1400.3 344.2,1412.4 347.8,1428.2 351.4,1422.1 355.0,1421.2 358.6,1422.6 362.2,1415.7 365.8,1421.3 369.4,1413.4 373.0,1411.6 376.6,1413.2 380.2,1412.3 383.8,1414.9 387.4,1414.9 391.0,1417.2 394.6,1415.0 398.2,1419.6 401.8,1418.8 405.4,1416.7 409.0,1418.5 412.6,1414.1 416.2,1415.2 419.8,1413.3 423.4,1408.9 427.0,1407.7 430.6,1406.7 434.2,1412.2 437.8,1407.6 441.4,1402.0 445.0,1402.8 448.6,1408.4 452.2,1411.2 455.8,1408.5 459.4,1416.5 463.0,1412.0 466.6,1417.8 470.2,1411.2 473.8,1412.4 477.4,1412.8 481.0,1409.3 484.6,1411.6 488.2,1408.4 491.8,1411.7 495.4,1416.0 499.0,1414.9 502.6,1407.7 506.2,1407.1 509.8,1413.8 513.4,1408.9 517.0,1410.8 520.6,1412.4 524.2,1412.2 527.8,1409.5 531.4,1407.5 535.0,1408.2 538.6,1402.2 542.2,1410.0 545.8,1409.5 549.4,1411.0 553.0,1404.0 556.6,1397.9 560.2,1404.3 563.8,1412.9 567.4,1400.8 571.0,1395.2 574.6,1401.2 578.2,1408.1 581.8,1395.0 585.4,1389.1 589.0,1394.0 592.6,1402.0 596.2,1393.8 599.8,1391.5 603.4,1396.8 607.0,1391.3 610.6,1396.3 614.2,1398.0 617.8,1383.2 621.4,1391.4 625.0,1390.9 628.6,1392.8 632.2,1403.3 635.8,1393.4 639.4,1391.8 643.0,1395.6 646.6,1399.5 650.2,1387.5 653.8,1385.6 657.4,1388.4 661.0,1389.8 664.6,1386.1 668.2,1385.0 671.8,1389.8 675.4,1390.7 679.0,1389.1 682.6,1385.7 686.2,1388.2 689.8,1389.9 693.4,1383.3 697.0,1384.8 700.6,1387.8 704.2,1386.0 707.8,1378.2 711.4,1382.3 715.0,1372.5 718.6,1360.1 722.2,1351.7 725.8,1344.0 729.4,1346.6 733.0,1349.3 736.6,1337.7 740.2,1337.9 743.8,1348.7 747.4,1353.4 751.0,1361.6 754.6,1364.8 758.2,1366.4 761.8,1368.6 765.4,1371.2 769.0,1376.7 772.6,1367.5 776.2,1363.3 779.8,1373.0 783.4,1358.6 787.0,1360.5 790.6,1363.7 794.2,1366.5 797.8,1367.2 801.4,1361.9 805.0,1359.8 808.6,1364.4 812.2,1370.1 815.8,1368.3 819.4,1377.0 823.0,1364.2 826.6,1362.1 830.2,1366.9 833.8,1367.7 837.4,1370.4 841.0,1375.1 844.6,1368.5 848.2,1376.0 851.8,1366.6 855.4,1368.4 859.0,1359.5 862.6,1368.2 866.2,1362.0 869.8,1355.8 873.4,1357.4 877.0,1356.1 880.6,1356.1 884.2,1360.8 887.8,1358.8 891.4,1354.3 895.0,1350.6 898.6,1345.3 902.2,1352.1 905.8,1344.5 909.4,1345.6 913.0,1346.7 916.6,1339.0 920.2,1340.1 923.8,1343.4 927.4,1343.5 931.0,1339.3 934.6,1342.1 938.2,1342.8 941.8,1341.7 945.4,1347.5 949.0,1342.7 952.6,1347.0 956.2,1346.5 959.8,1354.3 963.4,1352.0 967.0,1348.3 970.6,1351.6 974.2,1355.3 977.8,1349.4 981.4,1347.7 985.0,1345.4 988.6,1342.3 992.2,1346.7 995.8,1352.5 999.4,1349.0 1003.0,1347.1 1006.6,1338.0 1010.2,1350.6 1013.8,1336.4 1017.4,1343.5 1021.0,1345.0 1024.6,1336.1 1028.2,1335.4 1031.8,1338.7 1035.4,1337.4 1039.0,1339.5 1042.6,1340.7 1046.2,1346.2 1049.8,1344.3 1053.4,1341.7 1057.0,1342.7 1060.6,1340.2 1064.2,1339.6 1067.8,1332.3 1071.4,1342.3 1075.0,1339.0 1078.6,1341.0 1082.2,1334.4 1085.8,1338.3 1089.4,1338.9 1093.0,1334.8 1096.6,1332.3 1100.2,1338.9 1103.8,1333.6 1107.4,1341.9 1111.0,1338.5 1114.6,1332.0 1118.2,1333.1 1121.8,1330.1 1125.4,1335.2 1129.0,1326.5 1132.6,1331.0 1136.2,1336.6 1139.8,1333.2 1143.4,1339.0 1147.0,1341.9 1150.6,1337.2 1154.2,1336.6 1157.8,1341.1 1161.4,1333.5 1165.0,1332.5 1168.6,1332.0 1172.2,1338.7 1175.8,1338.8 1179.4,1333.2 1183.0,1337.7 1186.6,1333.8 1190.2,1342.5 1193.8,1334.8 1197.4,1339.8 1201.0,1339.2 1204.6,1338.9 1208.2,1340.0 1211.8,1335.6 1215.4,1336.1" fill="none" stroke="#ff0000" stroke-width="7.5" stroke-linejoin="miter"/>
<path d="M225.4,1299.7V1307.7 M239.8,1301.0V1310.3 M250.6,1304.2V1311.6 M257.8,1333.4V1326.1 M268.6,1378.4V1370.7 M272.2,1386.4V1380.7 M275.8,1394.5V1405.2 M279.4,1402.0V1394.7 M283.0,1406.7V1418.6 M286.6,1411.3V1428.2 M290.2,1401.1V1408.8 M293.8,1403.7V1392.2 M297.4,1406.7V1398.2 M304.6,1400.3V1383.8 M308.2,1394.2V1410.9 M311.8,1395.0V1379.7 M315.4,1394.9V1379.4 M319.0,1391.7V1401.4 M322.6,1387.1V1371.2 M326.2,1389.0V1401.9 M329.8,1387.8V1401.1 M333.4,1384.8V1401.8 M347.8,1428.2V1413.3 M351.4,1422.1V1435.2 M362.2,1415.7V1431.1 M365.8,1421.3V1412.0 M369.4,1413.4V1420.5 M376.6,1413.2V1429.1 M394.6,1415.0V1424.8 M398.2,1419.6V1404.2 M405.4,1416.7V1431.6 M409.0,1418.5V1411.1 M416.2,1415.2V1424.0 M419.8,1413.3V1402.8 M423.4,1408.9V1394.0 M427.0,1407.7V1396.2 M437.8,1407.6V1421.8 M445.0,1402.8V1386.7 M448.6,1408.4V1423.1 M452.2,1411.2V1426.1 M463.0,1412.0V1397.7 M466.6,1417.8V1407.0 M470.2,1411.2V1395.7 M473.8,1412.4V1400.3 M477.4,1412.8V1397.8 M484.6,1411.6V1423.3 M488.2,1408.4V1395.2 M491.8,1411.7V1402.4 M495.4,1416.0V1428.1 M499.0,1414.9V1403.7 M509.8,1413.8V1430.0 M520.6,1412.4V1426.2 M524.2,1412.2V1397.6 M527.8,1409.5V1417.2 M531.4,1407.5V1398.4 M538.6,1402.2V1390.5 M549.4,1411.0V1403.8 M553.0,1404.0V1393.0 M571.0,1395.2V1406.9 M574.6,1401.2V1390.8 M578.2,1408.1V1397.3 M585.4,1389.1V1400.1 M589.0,1394.0V1381.9 M596.2,1393.8V1408.3 M599.8,1391.5V1403.3 M603.4,1396.8V1409.8 M607.0,1391.3V1405.5 M610.6,1396.3V1380.3 M614.2,1398.0V1414.1 M621.4,1391.4V1383.2 M625.0,1390.9V1404.6 M639.4,1391.8V1379.1 M646.6,1399.5V1407.1 M650.2,1387.5V1395.2 M653.8,1385.6V1397.3 M657.4,1388.4V1380.2 M661.0,1389.8V1380.2 M664.6,1386.1V1373.6 M668.2,1385.0V1400.8 M671.8,1389.8V1379.8 M679.0,1389.1V1397.5 M697.0,1384.8V1395.4 M704.2,1386.0V1371.4 M707.8,1378.2V1365.5 M711.4,1382.3V1397.2 M715.0,1372.5V1385.9 M718.6,1360.1V1345.4 M722.2,1351.7V1341.3 M747.4,1353.4V1364.6 M751.0,1361.6V1371.7 M754.6,1364.8V1353.2 M758.2,1366.4V1374.5 M761.8,1368.6V1378.5 M765.4,1371.2V1358.7 M769.0,1376.7V1393.3 M776.2,1363.3V1372.7 M783.4,1358.6V1349.0 M787.0,1360.5V1377.4 M790.6,1363.7V1348.5 M794.2,1366.5V1356.8 M805.0,1359.8V1375.2 M808.6,1364.4V1378.6 M812.2,1370.1V1353.5 M815.8,1368.3V1357.5 M823.0,1364.2V1376.6 M833.8,1367.7V1381.8 M837.4,1370.4V1379.7 M841.0,1375.1V1361.6 M844.6,1368.5V1378.8 M848.2,1376.0V1389.1 M851.8,1366.6V1355.9 M855.4,1368.4V1353.7 M859.0,1359.5V1371.5 M866.2,1362.0V1345.5 M869.8,1355.8V1372.1 M873.4,1357.4V1341.4 M884.2,1360.8V1376.7 M895.0,1350.6V1340.5 M902.2,1352.1V1341.3 M905.8,1344.5V1337.1 M909.4,1345.6V1334.5 M913.0,1346.7V1329.7 M916.6,1339.0V1327.6 M920.2,1340.1V1356.1 M927.4,1343.5V1351.2 M931.0,1339.3V1325.4 M938.2,1342.8V1358.5 M941.8,1341.7V1357.8 M945.4,1347.5V1335.1 M952.6,1347.0V1336.5 M959.8,1354.3V1363.4 M970.6,1351.6V1367.4 M977.8,1349.4V1365.8 M985.0,1345.4V1331.8 M988.6,1342.3V1332.2 M992.2,1346.7V1363.5 M995.8,1352.5V1345.1 M1003.0,1347.1V1331.2 M1006.6,1338.0V1329.2 M1010.2,1350.6V1337.0 M1013.8,1336.4V1324.2 M1017.4,1343.5V1352.8 M1021.0,1345.0V1356.9 M1024.6,1336.1V1328.8 M1028.2,1335.4V1343.9 M1031.8,1338.7V1353.7 M1039.0,1339.5V1329.3 M1042.6,1340.7V1355.9 M1049.8,1344.3V1335.2 M1060.6,1340.2V1347.9 M1064.2,1339.6V1330.1 M1067.8,1332.3V1321.9 M1071.4,1342.3V1349.9 M1078.6,1341.0V1356.5 M1082.2,1334.4V1344.9 M1085.8,1338.3V1350.0 M1093.0,1334.8V1342.0 M1107.4,1341.9V1327.2 M1111.0,1338.5V1330.0 M1118.2,1333.1V1342.1 M1125.4,1335.2V1342.6 M1132.6,1331.0V1317.1 M1136.2,1336.6V1344.5 M1139.8,1333.2V1345.1 M1143.4,1339.0V1346.9 M1150.6,1337.2V1347.9 M1154.2,1336.6V1348.3 M1157.8,1341.1V1354.8 M1161.4,1333.5V1320.7 M1165.0,1332.5V1343.6 M1172.2,1338.7V1328.1 M1175.8,1338.8V1348.2 M1179.4,1333.2V1319.7 M1183.0,1337.7V1322.4 M1186.6,1333.8V1320.0 M1190.2,1342.5V1355.7 M1197.4,1339.8V1349.3 M1201.0,1339.2V1353.2 M1204.6,1338.9V1323.2 M1211.8,1335.6V1321.0" fill="none" stroke="#ff0000" stroke-width="5.2"/>
<path d="M236.2,1298.8V1313.2 M247.0,1296.7V1254.0 M250.6,1304.2V1330.8 M272.2,1386.4V1405.7 M286.6,1411.3V1444.1 M293.8,1403.7V1378.4 M311.8,1395.0V1377.7 M315.4,1394.9V1439.8 M319.0,1391.7V1409.0 M326.2,1389.0V1373.8 M365.8,1421.3V1394.9 M383.8,1414.9V1440.4 M394.6,1415.0V1441.8 M398.2,1419.6V1435.5 M405.4,1416.7V1439.0 M409.0,1418.5V1391.6 M416.2,1415.2V1445.2 M423.4,1408.9V1361.5 M434.2,1412.2V1439.9 M445.0,1402.8V1418.8 M448.6,1408.4V1443.3 M452.2,1411.2V1387.5 M459.4,1416.5V1398.5 M473.8,1412.4V1360.4 M477.4,1412.8V1441.9 M484.6,1411.6V1376.3 M488.2,1408.4V1441.5 M491.8,1411.7V1391.4 M495.4,1416.0V1440.1 M499.0,1414.9V1397.1 M506.2,1407.1V1375.9 M513.4,1408.9V1390.6 M517.0,1410.8V1444.5 M520.6,1412.4V1383.6 M527.8,1409.5V1384.9 M535.0,1408.2V1392.5 M538.6,1402.2V1428.2 M545.8,1409.5V1427.1 M563.8,1412.9V1370.7 M567.4,1400.8V1431.2 M571.0,1395.2V1368.0 M581.8,1395.0V1368.6 M585.4,1389.1V1409.8 M599.8,1391.5V1417.9 M603.4,1396.8V1369.0 M607.0,1391.3V1409.7 M610.6,1396.3V1344.3 M614.2,1398.0V1450.0 M617.8,1383.2V1331.2 M621.4,1391.4V1409.1 M625.0,1390.9V1416.4 M632.2,1403.3V1386.8 M643.0,1395.6V1377.1 M646.6,1399.5V1426.2 M653.8,1385.6V1354.2 M661.0,1389.8V1362.1 M668.2,1385.0V1410.0 M671.8,1389.8V1371.9 M689.8,1389.9V1409.5 M697.0,1384.8V1367.2 M704.2,1386.0V1370.7 M711.4,1382.3V1351.3 M729.4,1346.6V1310.6 M740.2,1337.9V1359.5 M758.2,1366.4V1348.2 M765.4,1371.2V1352.6 M769.0,1376.7V1361.1 M772.6,1367.5V1343.5 M776.2,1363.3V1342.7 M794.2,1366.5V1389.4 M797.8,1367.2V1400.9 M801.4,1361.9V1397.9 M805.0,1359.8V1375.8 M815.8,1368.3V1393.3 M819.4,1377.0V1403.5 M823.0,1364.2V1343.3 M826.6,1362.1V1312.3 M830.2,1366.9V1402.9 M833.8,1367.7V1331.0 M837.4,1370.4V1391.7 M844.6,1368.5V1347.4 M848.2,1376.0V1356.0 M866.2,1362.0V1378.0 M869.8,1355.8V1339.2 M887.8,1358.8V1383.4 M898.6,1345.3V1363.0 M902.2,1352.1V1375.9 M905.8,1344.5V1292.5 M920.2,1340.1V1309.6 M927.4,1343.5V1366.9 M931.0,1339.3V1358.7 M945.4,1347.5V1365.8 M952.6,1347.0V1331.7 M963.4,1352.0V1374.7 M970.6,1351.6V1382.1 M977.8,1349.4V1367.4 M981.4,1347.7V1365.1 M995.8,1352.5V1334.1 M999.4,1349.0V1330.0 M1003.0,1347.1V1324.7 M1013.8,1336.4V1369.5 M1028.2,1335.4V1357.2 M1035.4,1337.4V1354.3 M1042.6,1340.7V1323.6 M1049.8,1344.3V1321.3 M1053.4,1341.7V1319.4 M1057.0,1342.7V1363.7 M1064.2,1339.6V1317.2 M1085.8,1338.3V1286.3 M1089.4,1338.9V1359.7 M1093.0,1334.8V1313.8 M1096.6,1332.3V1352.7 M1103.8,1333.6V1353.3 M1107.4,1341.9V1362.9 M1111.0,1338.5V1358.0 M1114.6,1332.0V1301.4 M1121.8,1330.1V1349.2 M1129.0,1326.5V1298.2 M1136.2,1336.6V1352.3 M1139.8,1333.2V1354.3 M1143.4,1339.0V1322.0 M1150.6,1337.2V1352.9 M1154.2,1336.6V1351.9 M1157.8,1341.1V1314.6 M1168.6,1332.0V1375.8 M1172.2,1338.7V1356.3 M1183.0,1337.7V1317.6 M1197.4,1339.8V1363.4 M1201.0,1339.2V1371.9 M1204.6,1338.9V1320.4 M1208.2,1340.0V1370.1 M285.4,1408.0V1455.0 M543.5,1405.0V1328.0 M586.0,1395.0V1345.0 M590.5,1395.0V1442.0 M726.9,1350.0V1296.0 M709.5,1382.0V1423.0 M447.0,1410.0V1452.0 M397.0,1415.0V1455.0 M433.0,1408.0V1354.0 M381.0,1410.0V1368.0 M240.0,1300.0V1340.0 M905.6,1347.0V1302.0 M967.0,1349.0V1306.0 M1025.5,1342.0V1299.0 M1087.0,1337.0V1296.0 M1076.0,1338.0V1302.0 M1140.0,1335.0V1298.0 M1160.0,1336.0V1296.0 M1211.0,1339.0V1312.0 M1070.0,1340.0V1380.0 M987.0,1350.0V1393.0 M1159.0,1337.0V1373.0" fill="none" stroke="#ff0000" stroke-opacity="0.72" stroke-width="4.6"/>
<polyline points="1400.8,1162.4 1404.4,1153.0 1408.0,1156.8 1411.6,1159.3 1415.2,1155.1 1418.8,1155.2 1422.4,1159.2 1426.0,1162.0 1429.6,1171.4 1433.2,1179.8 1436.8,1198.4 1440.4,1217.8 1444.0,1227.6 1447.6,1244.2 1451.2,1265.0 1454.8,1267.4 1458.4,1286.6 1462.0,1296.6 1465.6,1300.7 1469.2,1316.7 1472.8,1312.7 1476.4,1312.7 1480.0,1312.4 1483.6,1313.9 1487.2,1302.3 1490.8,1294.9 1494.4,1305.1 1498.0,1310.6 1501.6,1307.3 1505.2,1307.5 1508.8,1318.6 1512.4,1323.9 1516.0,1333.3 1519.6,1344.3 1523.2,1351.7 1526.8,1357.8 1530.4,1374.9 1534.0,1386.7 1537.6,1398.4 1541.2,1400.3 1544.8,1397.2 1548.4,1390.9 1552.0,1386.7 1555.6,1397.1 1559.2,1389.9 1562.8,1385.0 1566.4,1379.5 1570.0,1387.6 1573.6,1384.7 1577.2,1373.2 1580.8,1368.6 1584.4,1360.5 1588.0,1362.9 1591.6,1369.4 1595.2,1361.8 1598.8,1357.0 1602.4,1360.7 1606.0,1355.9 1609.6,1340.7 1613.2,1338.0 1616.8,1332.3 1620.4,1333.1 1624.0,1336.4 1627.6,1335.3 1631.2,1331.1 1634.8,1327.2 1638.4,1325.9 1642.0,1325.7 1645.6,1327.1 1649.2,1331.8 1652.8,1329.4 1656.4,1328.8 1660.0,1328.1 1663.6,1321.6 1667.2,1323.3 1670.8,1320.8 1674.4,1315.3 1678.0,1311.1 1681.6,1317.4 1685.2,1320.2 1688.8,1306.7 1692.4,1306.3 1696.0,1303.7 1699.6,1311.1 1703.2,1315.7 1706.8,1312.6 1710.4,1316.2 1714.0,1312.0 1717.6,1308.5 1721.2,1303.0 1724.8,1312.8 1728.4,1310.8 1732.0,1309.1 1735.6,1315.1 1739.2,1315.5 1742.8,1306.9 1746.4,1312.0 1750.0,1304.8 1753.6,1305.3 1757.2,1307.6 1760.8,1314.0 1764.4,1311.4 1768.0,1307.1 1771.6,1302.6 1775.2,1303.1 1778.8,1304.1 1782.4,1306.3 1786.0,1303.2 1789.6,1304.9 1793.2,1304.0 1796.8,1306.9 1800.4,1302.8 1804.0,1299.2 1807.6,1296.7 1811.2,1301.7 1814.8,1299.6 1818.4,1305.1 1822.0,1299.5 1825.6,1301.0 1829.2,1304.2 1832.8,1299.9 1836.4,1301.4 1840.0,1301.7 1843.6,1302.7 1847.2,1298.7 1850.8,1298.3 1854.4,1297.0 1858.0,1304.7 1861.6,1303.5 1865.2,1303.4 1868.8,1308.2 1872.4,1309.6 1876.0,1305.2 1879.6,1311.5 1883.2,1303.7 1886.8,1305.6 1890.4,1312.4 1894.0,1309.4 1897.6,1303.8 1901.2,1295.9 1904.8,1297.5 1908.4,1297.2 1912.0,1293.7 1915.6,1292.5 1919.2,1291.8 1922.8,1298.9 1926.4,1292.3 1930.0,1306.2 1933.6,1294.6 1937.2,1302.8 1940.8,1300.8 1944.4,1308.2 1948.0,1300.6 1951.6,1302.3 1955.2,1303.7 1958.8,1301.0 1962.4,1298.9 1966.0,1297.6 1969.6,1299.7 1973.2,1298.0 1976.8,1291.6 1980.4,1301.0 1984.0,1294.1 1987.6,1298.0 1991.2,1301.8 1994.8,1310.8 1998.4,1312.3 2002.0,1309.7 2005.6,1316.5 2009.2,1318.6 2012.8,1317.9 2016.4,1314.7 2020.0,1322.1 2023.6,1318.9 2027.2,1321.0 2030.8,1311.1 2034.4,1324.8 2038.0,1320.2 2041.6,1316.7 2045.2,1319.6 2048.8,1318.2 2052.4,1318.6 2056.0,1313.3 2059.6,1312.6 2063.2,1315.3 2066.8,1320.7 2070.4,1310.7 2074.0,1320.1 2077.6,1317.9 2081.2,1319.2 2084.8,1321.7 2088.4,1324.1 2092.0,1321.1 2095.6,1317.7 2099.2,1311.9 2102.8,1311.0 2106.4,1315.8 2110.0,1308.9 2113.6,1311.3 2117.2,1308.8 2120.8,1306.8 2124.4,1305.8 2128.0,1307.8 2131.6,1306.7 2135.2,1304.0 2138.8,1303.3 2142.4,1309.4 2146.0,1311.2 2149.6,1316.4 2153.2,1310.2 2156.8,1313.0 2160.4,1304.7 2164.0,1306.4 2167.6,1310.8 2171.2,1305.8 2174.8,1311.2 2178.4,1318.4 2182.0,1310.6 2185.6,1321.8 2189.2,1313.8 2192.8,1322.8 2196.4,1315.7 2200.0,1321.7 2203.6,1320.5 2207.2,1323.2 2210.8,1317.0 2214.4,1321.4 2218.0,1315.7 2221.6,1316.9 2225.2,1322.7 2228.8,1324.3 2232.4,1324.7 2236.0,1323.2 2239.6,1318.4 2243.2,1321.0 2246.8,1322.7 2250.4,1318.8 2254.0,1330.6 2257.6,1323.9 2261.2,1331.9 2264.8,1333.6 2268.4,1332.9 2272.0,1326.7 2275.6,1332.5 2279.2,1333.2 2282.8,1322.9 2286.4,1335.0 2290.0,1335.3 2293.6,1339.6 2297.2,1337.7 2300.8,1337.4 2304.4,1335.5 2308.0,1355.8 2311.6,1351.5 2315.2,1355.4 2318.8,1352.8 2322.4,1355.6 2326.0,1360.1 2329.6,1363.6 2333.2,1372.0 2336.8,1368.4 2340.4,1381.3 2344.0,1382.7 2347.6,1384.5 2351.2,1388.1 2354.8,1388.6 2358.4,1385.0 2362.0,1392.5 2365.6,1395.9 2369.2,1396.0 2372.8,1402.8 2376.4,1411.0 2380.0,1415.3 2383.6,1419.0 2387.2,1419.2 2390.8,1420.1 2394.4,1425.4 2398.0,1423.5 2401.6,1426.1" fill="none" stroke="#ff0000" stroke-width="7.5" stroke-linejoin="miter"/>
<path d="M1404.4,1153.0V1160.5 M1408.0,1156.8V1149.7 M1411.6,1159.3V1172.2 M1422.4,1159.2V1146.5 M1429.6,1171.4V1178.6 M1433.2,1179.8V1189.4 M1444.0,1227.6V1243.1 M1447.6,1244.2V1230.2 M1451.2,1265.0V1249.3 M1454.8,1267.4V1274.6 M1458.4,1286.6V1278.5 M1462.0,1296.6V1286.3 M1480.0,1312.4V1325.0 M1487.2,1302.3V1314.3 M1494.4,1305.1V1318.2 M1498.0,1310.6V1303.1 M1501.6,1307.3V1319.0 M1505.2,1307.5V1292.5 M1508.8,1318.6V1328.1 M1512.4,1323.9V1334.2 M1516.0,1333.3V1342.6 M1519.6,1344.3V1352.0 M1526.8,1357.8V1372.2 M1530.4,1374.9V1388.0 M1534.0,1386.7V1370.7 M1537.6,1398.4V1381.8 M1541.2,1400.3V1385.0 M1544.8,1397.2V1385.2 M1548.4,1390.9V1375.0 M1555.6,1397.1V1384.4 M1559.2,1389.9V1372.8 M1562.8,1385.0V1371.7 M1566.4,1379.5V1369.2 M1570.0,1387.6V1374.4 M1573.6,1384.7V1375.7 M1577.2,1373.2V1360.3 M1580.8,1368.6V1358.3 M1584.4,1360.5V1370.2 M1588.0,1362.9V1347.5 M1591.6,1369.4V1381.0 M1595.2,1361.8V1346.9 M1598.8,1357.0V1347.4 M1602.4,1360.7V1351.5 M1609.6,1340.7V1320.8 M1613.2,1338.0V1321.1 M1616.8,1332.3V1322.4 M1620.4,1333.1V1318.1 M1624.0,1336.4V1321.4 M1627.6,1335.3V1350.9 M1634.8,1327.2V1318.8 M1638.4,1325.9V1310.8 M1642.0,1325.7V1309.4 M1652.8,1329.4V1320.3 M1660.0,1328.1V1340.6 M1667.2,1323.3V1337.8 M1674.4,1315.3V1326.5 M1678.0,1311.1V1324.8 M1685.2,1320.2V1312.1 M1696.0,1303.7V1290.5 M1699.6,1311.1V1296.7 M1703.2,1315.7V1323.5 M1706.8,1312.6V1328.1 M1714.0,1312.0V1302.5 M1724.8,1312.8V1302.6 M1728.4,1310.8V1299.5 M1739.2,1315.5V1303.5 M1746.4,1312.0V1319.4 M1757.2,1307.6V1300.3 M1760.8,1314.0V1299.4 M1764.4,1311.4V1300.1 M1771.6,1302.6V1318.0 M1775.2,1303.1V1294.1 M1782.4,1306.3V1294.4 M1789.6,1304.9V1297.1 M1793.2,1304.0V1291.9 M1796.8,1306.9V1322.4 M1800.4,1302.8V1288.2 M1807.6,1296.7V1288.8 M1814.8,1299.6V1314.5 M1818.4,1305.1V1291.2 M1822.0,1299.5V1310.7 M1825.6,1301.0V1286.0 M1832.8,1299.9V1284.3 M1840.0,1301.7V1292.8 M1843.6,1302.7V1286.6 M1858.0,1304.7V1290.2 M1868.8,1308.2V1293.6 M1872.4,1309.6V1321.8 M1879.6,1311.5V1299.7 M1883.2,1303.7V1294.9 M1886.8,1305.6V1322.5 M1890.4,1312.4V1302.4 M1897.6,1303.8V1289.8 M1901.2,1295.9V1307.1 M1904.8,1297.5V1283.5 M1912.0,1293.7V1303.1 M1915.6,1292.5V1281.8 M1919.2,1291.8V1277.5 M1922.8,1298.9V1315.6 M1930.0,1306.2V1292.4 M1937.2,1302.8V1292.6 M1940.8,1300.8V1311.5 M1944.4,1308.2V1299.5 M1951.6,1302.3V1314.4 M1955.2,1303.7V1311.2 M1958.8,1301.0V1312.4 M1962.4,1298.9V1283.0 M1976.8,1291.6V1303.2 M1980.4,1301.0V1311.0 M1984.0,1294.1V1305.8 M1987.6,1298.0V1281.7 M1991.2,1301.8V1311.6 M2002.0,1309.7V1299.2 M2005.6,1316.5V1324.1 M2012.8,1317.9V1329.0 M2016.4,1314.7V1326.7 M2023.6,1318.9V1334.8 M2030.8,1311.1V1300.3 M2034.4,1324.8V1314.1 M2038.0,1320.2V1332.6 M2045.2,1319.6V1305.7 M2059.6,1312.6V1295.8 M2063.2,1315.3V1326.8 M2066.8,1320.7V1334.5 M2070.4,1310.7V1325.8 M2077.6,1317.9V1306.5 M2084.8,1321.7V1334.2 M2088.4,1324.1V1334.7 M2095.6,1317.7V1303.3 M2099.2,1311.9V1322.2 M2102.8,1311.0V1318.9 M2106.4,1315.8V1327.0 M2113.6,1311.3V1300.5 M2117.2,1308.8V1298.0 M2120.8,1306.8V1299.2 M2124.4,1305.8V1316.8 M2128.0,1307.8V1299.2 M2135.2,1304.0V1289.9 M2138.8,1303.3V1315.8 M2142.4,1309.4V1301.3 M2146.0,1311.2V1318.6 M2149.6,1316.4V1302.0 M2160.4,1304.7V1312.1 M2164.0,1306.4V1299.2 M2167.6,1310.8V1298.9 M2171.2,1305.8V1290.5 M2174.8,1311.2V1304.2 M2178.4,1318.4V1334.5 M2182.0,1310.6V1303.0 M2185.6,1321.8V1309.3 M2189.2,1313.8V1298.8 M2192.8,1322.8V1311.4 M2196.4,1315.7V1327.9 M2200.0,1321.7V1314.4 M2203.6,1320.5V1309.5 M2207.2,1323.2V1336.5 M2210.8,1317.0V1326.2 M2214.4,1321.4V1306.4 M2218.0,1315.7V1307.3 M2221.6,1316.9V1301.7 M2225.2,1322.7V1330.2 M2228.8,1324.3V1311.0 M2239.6,1318.4V1306.9 M2243.2,1321.0V1333.1 M2246.8,1322.7V1330.6 M2250.4,1318.8V1302.5 M2261.2,1331.9V1321.6 M2264.8,1333.6V1322.7 M2272.0,1326.7V1338.9 M2275.6,1332.5V1324.8 M2282.8,1322.9V1310.7 M2286.4,1335.0V1320.8 M2290.0,1335.3V1346.4 M2297.2,1337.7V1354.6 M2300.8,1337.4V1321.4 M2304.4,1335.5V1325.8 M2308.0,1355.8V1371.9 M2311.6,1351.5V1365.4 M2318.8,1352.8V1366.0 M2322.4,1355.6V1364.1 M2326.0,1360.1V1376.8 M2333.2,1372.0V1387.8 M2336.8,1368.4V1380.4 M2344.0,1382.7V1390.4 M2347.6,1384.5V1369.2 M2351.2,1388.1V1372.9 M2354.8,1388.6V1404.0 M2362.0,1392.5V1404.7 M2365.6,1395.9V1406.6 M2372.8,1402.8V1392.2 M2376.4,1411.0V1403.4 M2383.6,1419.0V1435.6 M2387.2,1419.2V1435.6 M2398.0,1423.5V1410.9 M2401.6,1426.1V1419.1" fill="none" stroke="#ff0000" stroke-width="5.2"/>
<path d="M1400.8,1162.4V1182.4 M1411.6,1159.3V1133.6 M1415.2,1155.1V1180.0 M1426.0,1162.0V1175.6 M1429.6,1171.4V1151.8 M1433.2,1179.8V1154.2 M1440.4,1217.8V1198.3 M1451.2,1265.0V1306.0 M1454.8,1267.4V1230.0 M1472.8,1312.7V1328.5 M1483.6,1313.9V1355.2 M1490.8,1294.9V1278.0 M1508.8,1318.6V1302.8 M1516.0,1333.3V1318.0 M1519.6,1344.3V1364.7 M1523.2,1351.7V1309.6 M1526.8,1357.8V1343.9 M1530.4,1374.9V1338.9 M1534.0,1386.7V1374.1 M1541.2,1400.3V1417.0 M1544.8,1397.2V1434.9 M1559.2,1389.9V1411.0 M1562.8,1385.0V1406.2 M1566.4,1379.5V1328.6 M1573.6,1384.7V1405.3 M1580.8,1368.6V1343.2 M1584.4,1360.5V1343.7 M1588.0,1362.9V1342.9 M1591.6,1369.4V1402.6 M1595.2,1361.8V1333.2 M1613.2,1338.0V1372.9 M1616.8,1332.3V1298.0 M1627.6,1335.3V1311.2 M1656.4,1328.8V1344.7 M1660.0,1328.1V1306.2 M1667.2,1323.3V1362.5 M1681.6,1317.4V1284.8 M1692.4,1306.3V1289.7 M1699.6,1311.1V1328.3 M1703.2,1315.7V1276.6 M1706.8,1312.6V1335.0 M1710.4,1316.2V1302.2 M1717.6,1308.5V1282.4 M1721.2,1303.0V1282.2 M1724.8,1312.8V1326.4 M1728.4,1310.8V1296.7 M1732.0,1309.1V1282.9 M1760.8,1314.0V1334.4 M1764.4,1311.4V1326.7 M1771.6,1302.6V1325.8 M1775.2,1303.1V1323.8 M1778.8,1304.1V1286.4 M1782.4,1306.3V1339.4 M1786.0,1303.2V1317.2 M1793.2,1304.0V1290.5 M1796.8,1306.9V1290.1 M1814.8,1299.6V1336.2 M1818.4,1305.1V1291.1 M1822.0,1299.5V1320.8 M1825.6,1301.0V1330.5 M1829.2,1304.2V1277.6 M1832.8,1299.9V1263.6 M1840.0,1301.7V1317.2 M1850.8,1298.3V1319.1 M1861.6,1303.5V1324.9 M1868.8,1308.2V1292.6 M1872.4,1309.6V1334.3 M1876.0,1305.2V1321.9 M1879.6,1311.5V1337.2 M1883.2,1303.7V1275.3 M1886.8,1305.6V1291.3 M1890.4,1312.4V1293.7 M1894.0,1309.4V1272.5 M1901.2,1295.9V1281.7 M1904.8,1297.5V1254.5 M1915.6,1292.5V1308.8 M1922.8,1298.9V1264.3 M1933.6,1294.6V1316.3 M1937.2,1302.8V1274.2 M1951.6,1302.3V1326.7 M1955.2,1303.7V1322.8 M1958.8,1301.0V1281.2 M1962.4,1298.9V1254.9 M1969.6,1299.7V1335.8 M1980.4,1301.0V1317.5 M1984.0,1294.1V1314.9 M1987.6,1298.0V1274.3 M1991.2,1301.8V1286.2 M1994.8,1310.8V1354.8 M1998.4,1312.3V1345.9 M2005.6,1316.5V1333.1 M2012.8,1317.9V1301.6 M2027.2,1321.0V1343.8 M2030.8,1311.1V1332.3 M2045.2,1319.6V1347.9 M2059.6,1312.6V1342.4 M2066.8,1320.7V1334.9 M2081.2,1319.2V1304.8 M2088.4,1324.1V1309.7 M2099.2,1311.9V1291.7 M2102.8,1311.0V1296.3 M2110.0,1308.9V1292.2 M2117.2,1308.8V1293.8 M2120.8,1306.8V1288.0 M2124.4,1305.8V1283.2 M2128.0,1307.8V1327.9 M2131.6,1306.7V1322.8 M2135.2,1304.0V1335.7 M2149.6,1316.4V1346.3 M2171.2,1305.8V1291.2 M2178.4,1318.4V1299.1 M2182.0,1310.6V1337.2 M2185.6,1321.8V1308.6 M2189.2,1313.8V1327.9 M2203.6,1320.5V1336.6 M2214.4,1321.4V1336.5 M2225.2,1322.7V1278.7 M2228.8,1324.3V1349.3 M2243.2,1321.0V1334.7 M2254.0,1330.6V1317.6 M2272.0,1326.7V1346.2 M2275.6,1332.5V1347.5 M2290.0,1335.3V1301.2 M2293.6,1339.6V1359.5 M2304.4,1335.5V1322.1 M2311.6,1351.5V1335.4 M2318.8,1352.8V1369.5 M2326.0,1360.1V1344.2 M2336.8,1368.4V1352.4 M2340.4,1381.3V1395.0 M2344.0,1382.7V1338.7 M2354.8,1388.6V1372.2 M2358.4,1385.0V1358.6 M2362.0,1392.5V1377.1 M2369.2,1396.0V1416.3 M2372.8,1402.8V1423.1 M2380.0,1415.3V1437.1 M2383.6,1419.0V1432.1 M2390.8,1420.1V1405.5 M2398.0,1423.5V1408.4 M2401.6,1426.1V1407.9 M1414.2,1152.0V1115.0 M1796.3,1303.0V1345.0 M1883.0,1307.0V1348.0 M1857.0,1305.0V1338.0 M1667.0,1320.0V1276.0 M1705.0,1312.0V1279.0 M1772.0,1302.0V1273.0 M1845.0,1298.0V1272.0 M1911.5,1290.0V1241.0 M2012.5,1318.0V1366.0 M2097.0,1318.0V1358.0 M2109.0,1312.0V1271.0 M2211.0,1318.0V1281.0 M2221.0,1322.0V1361.0 M2290.0,1336.0V1297.0 M2353.0,1390.0V1355.0 M2388.0,1418.0V1444.0" fill="none" stroke="#ff0000" stroke-opacity="0.72" stroke-width="4.6"/>
<g stroke="#6e6e6e" stroke-width="6.5" style="mix-blend-mode:multiply">
<line x1="258.3" y1="1012.2" x2="258.3" y2="1697"/>
<line x1="296.6" y1="1012.2" x2="296.6" y2="1697"/>
<line x1="341.8" y1="1012.2" x2="341.8" y2="1697"/>
<line x1="424.3" y1="1012.2" x2="424.3" y2="1697"/>
<line x1="465.7" y1="1015.2" x2="465.7" y2="1697"/>
<line x1="717.1" y1="1012.2" x2="717.1" y2="1697"/>
<line x1="758.6" y1="1012.2" x2="758.6" y2="1697"/>
<line x1="1443.4" y1="1005.5" x2="1443.4" y2="1699"/>
<line x1="1484.7" y1="1005.5" x2="1484.7" y2="1699"/>
<line x1="1524.5" y1="1005.5" x2="1524.5" y2="1699"/>
<line x1="1609.3" y1="1008.8" x2="1609.3" y2="1699"/>
<line x1="1652" y1="1008.8" x2="1652" y2="1699"/>
<line x1="1899.3" y1="1008.5" x2="1899.3" y2="1699"/>
<line x1="1941.6" y1="1008.5" x2="1941.6" y2="1699"/>
</g>
<line x1="216.5" y1="1056.8" x2="255" y2="1056.8" stroke="#00ff00" stroke-opacity="0.45" stroke-width="13.2"/>
<line x1="255" y1="1056.8" x2="300.4" y2="1056.8" stroke="#ff0000" stroke-opacity="0.45" stroke-width="13.2"/>
<line x1="300.4" y1="1056.8" x2="339.5" y2="1056.8" stroke="#00ff00" stroke-opacity="0.45" stroke-width="13.2"/>
<line x1="339.5" y1="1056.8" x2="418.5" y2="1056.8" stroke="#ff0000" stroke-opacity="0.45" stroke-width="13.2"/>
<line x1="418.5" y1="1056.8" x2="459" y2="1056.8" stroke="#00ff00" stroke-opacity="0.45" stroke-width="13.2"/>
<line x1="465.5" y1="1056.8" x2="713.4" y2="1056.8" stroke="#ff0000" stroke-opacity="0.45" stroke-width="13.2"/>
<line x1="713.4" y1="1056.8" x2="755" y2="1056.8" stroke="#00ff00" stroke-opacity="0.45" stroke-width="13.2"/>
<line x1="755" y1="1056.8" x2="1210.7" y2="1056.8" stroke="#ff0000" stroke-opacity="0.45" stroke-width="13.2"/>
<line x1="216.5" y1="1056.8" x2="255" y2="1056.8" stroke="#00ff00" stroke-width="7.4"/>
<line x1="255" y1="1056.8" x2="300.4" y2="1056.8" stroke="#ff0000" stroke-width="7.4"/>
<line x1="300.4" y1="1056.8" x2="339.5" y2="1056.8" stroke="#00ff00" stroke-width="7.4"/>
<line x1="339.5" y1="1056.8" x2="418.5" y2="1056.8" stroke="#ff0000" stroke-width="7.4"/>
<line x1="418.5" y1="1056.8" x2="459" y2="1056.8" stroke="#00ff00" stroke-width="7.4"/>
<line x1="465.5" y1="1056.8" x2="713.4" y2="1056.8" stroke="#ff0000" stroke-width="7.4"/>
<line x1="713.4" y1="1056.8" x2="755" y2="1056.8" stroke="#00ff00" stroke-width="7.4"/>
<line x1="755" y1="1056.8" x2="1210.7" y2="1056.8" stroke="#ff0000" stroke-width="7.4"/>
<line x1="488.1" y1="1388.2" x2="671.7" y2="1358.0" stroke="#0a0a0a" stroke-width="6.0"/>
<polygon points="697.3,1353.8 669.0,1366.6 666.8,1352.8" fill="#050505" stroke="#050505" stroke-width="4" stroke-linejoin="round"/>
<line x1="807.4" y1="1398.7" x2="1106.9" y2="1357.3" stroke="#0a0a0a" stroke-width="6.0"/>
<polygon points="1132.6,1353.8 1104.0,1365.9 1102.1,1352.0" fill="#050505" stroke="#050505" stroke-width="4" stroke-linejoin="round"/>
<g font-family="'Liberation Sans', Arial, sans-serif" font-size="100">
<text transform="translate(78.20,55.60) scale(0.5208,0.5814)" fill="#333333" stroke="#333333" stroke-width="0.64" stroke-linejoin="round">750</text>
<text transform="translate(78.20,148.80) scale(0.5208,0.5800)" fill="#333333" stroke="#333333" stroke-width="0.64" stroke-linejoin="round">700</text>
<text transform="translate(78.20,244.10) scale(0.5208,0.5814)" fill="#333333" stroke="#333333" stroke-width="0.64" stroke-linejoin="round">650</text>
<text transform="translate(78.20,338.80) scale(0.5208,0.5829)" fill="#333333" stroke="#333333" stroke-width="0.63" stroke-linejoin="round">600</text>
<text transform="translate(78.73,436.00) scale(0.5175,0.5814)" fill="#333333" stroke="#333333" stroke-width="0.64" stroke-linejoin="round">550</text>
<text transform="translate(78.73,531.40) scale(0.5175,0.5814)" fill="#333333" stroke="#333333" stroke-width="0.64" stroke-linejoin="round">500</text>
<text transform="translate(79.78,625.30) scale(0.5111,0.5786)" fill="#333333" stroke="#333333" stroke-width="0.64" stroke-linejoin="round">450</text>
<text transform="translate(79.78,722.60) scale(0.5111,0.5814)" fill="#333333" stroke="#333333" stroke-width="0.64" stroke-linejoin="round">400</text>
<text transform="translate(184.28,870.20) scale(0.5057,0.5743)" fill="#333333" stroke="#333333" stroke-width="0.65" stroke-linejoin="round">30</text>
<text transform="translate(718.92,870.20) scale(0.5397,0.5743)" fill="#333333" stroke="#333333" stroke-width="0.63" stroke-linejoin="round">40</text>
<text transform="translate(1254.80,870.20) scale(0.5501,0.5743)" fill="#333333" stroke="#333333" stroke-width="0.62" stroke-linejoin="round">50</text>
<text transform="translate(1790.22,870.20) scale(0.5555,0.5743)" fill="#333333" stroke="#333333" stroke-width="0.62" stroke-linejoin="round">60</text>
<text transform="translate(2329.32,870.20) scale(0.5360,0.5743)" fill="#333333" stroke="#333333" stroke-width="0.63" stroke-linejoin="round">70</text>
<text transform="translate(1138.45,921.20) scale(0.5227,0.5623)" fill="#333333" stroke="#333333" stroke-width="0.55" stroke-linejoin="round">Time (hours)</text>
<text transform="translate(58.50,481.01) rotate(-90) scale(0.5190,0.5928)" fill="#333333" stroke="#333333" stroke-width="0.63" stroke-linejoin="round">pH (mV)</text>
<text transform="translate(626.72,149.10) scale(0.6702,0.7362)" fill="#161616" stroke="#161616" stroke-width="1.99" stroke-linejoin="round">SDS Addition</text>
<text transform="translate(2207.40,716.20) scale(0.6832,0.7101)" fill="#161616" stroke="#161616" stroke-width="2.01" stroke-linejoin="round">pH</text>
<text transform="translate(100.25,974.80) scale(0.5498,0.5829)" fill="#333333" stroke="#333333" stroke-width="0.62" stroke-linejoin="round">625</text>
<text transform="translate(100.25,1065.60) scale(0.5498,0.5800)" fill="#333333" stroke="#333333" stroke-width="0.62" stroke-linejoin="round">620</text>
<text transform="translate(100.25,1160.50) scale(0.5498,0.5800)" fill="#333333" stroke="#333333" stroke-width="0.62" stroke-linejoin="round">615</text>
<text transform="translate(100.25,1251.40) scale(0.5498,0.5814)" fill="#333333" stroke="#333333" stroke-width="0.62" stroke-linejoin="round">610</text>
<text transform="translate(100.25,1342.50) scale(0.5498,0.5786)" fill="#333333" stroke="#333333" stroke-width="0.62" stroke-linejoin="round">605</text>
<text transform="translate(100.25,1433.30) scale(0.5498,0.5814)" fill="#333333" stroke="#333333" stroke-width="0.62" stroke-linejoin="round">600</text>
<text transform="translate(100.81,1526.00) scale(0.5464,0.5829)" fill="#333333" stroke="#333333" stroke-width="0.62" stroke-linejoin="round">595</text>
<text transform="translate(100.81,1620.00) scale(0.5464,0.5814)" fill="#333333" stroke="#333333" stroke-width="0.62" stroke-linejoin="round">590</text>
<text transform="translate(100.81,1711.20) scale(0.5464,0.5814)" fill="#333333" stroke="#333333" stroke-width="0.62" stroke-linejoin="round">585</text>
<text transform="translate(183.59,1760.60) scale(0.5372,0.5800)" fill="#333333" stroke="#333333" stroke-width="0.63" stroke-linejoin="round">38</text>
<text transform="translate(684.57,1760.60) scale(0.5752,0.5800)" fill="#333333" stroke="#333333" stroke-width="0.61" stroke-linejoin="round">39</text>
<text transform="translate(1183.46,1760.60) scale(0.5719,0.5800)" fill="#333333" stroke="#333333" stroke-width="0.61" stroke-linejoin="round">40</text>
<text transform="translate(538.28,1820.90) scale(0.6091,0.5957)" fill="#262626" stroke="#262626" stroke-width="0.50" stroke-linejoin="round">Time (hours)</text>
<text transform="translate(552.44,1003.90) scale(0.6829,0.7174)" fill="#141414" stroke="#141414" stroke-width="2.14" stroke-linejoin="round">Before SDS</text>
<text transform="translate(81.40,1435.15) rotate(-90) scale(0.5414,0.5855)" fill="#333333" stroke="#333333" stroke-width="0.62" stroke-linejoin="round">pH (mV)</text>
<text transform="translate(1282.69,974.00) scale(0.5625,0.5786)" fill="#333333" stroke="#333333" stroke-width="0.61" stroke-linejoin="round">600</text>
<text transform="translate(1283.26,1065.60) scale(0.5589,0.5729)" fill="#333333" stroke="#333333" stroke-width="0.62" stroke-linejoin="round">595</text>
<text transform="translate(1283.26,1160.50) scale(0.5589,0.5800)" fill="#333333" stroke="#333333" stroke-width="0.61" stroke-linejoin="round">590</text>
<text transform="translate(1283.26,1252.80) scale(0.5589,0.5829)" fill="#333333" stroke="#333333" stroke-width="0.61" stroke-linejoin="round">585</text>
<text transform="translate(1283.26,1343.80) scale(0.5589,0.5757)" fill="#333333" stroke="#333333" stroke-width="0.62" stroke-linejoin="round">580</text>
<text transform="translate(1283.26,1437.70) scale(0.5589,0.5743)" fill="#333333" stroke="#333333" stroke-width="0.62" stroke-linejoin="round">575</text>
<text transform="translate(1283.26,1527.30) scale(0.5589,0.5757)" fill="#333333" stroke="#333333" stroke-width="0.62" stroke-linejoin="round">570</text>
<text transform="translate(1283.26,1622.80) scale(0.5589,0.5757)" fill="#333333" stroke="#333333" stroke-width="0.62" stroke-linejoin="round">565</text>
<text transform="translate(1283.26,1714.00) scale(0.5589,0.5714)" fill="#333333" stroke="#333333" stroke-width="0.62" stroke-linejoin="round">560</text>
<text transform="translate(1369.03,1763.60) scale(0.5414,0.5757)" fill="#333333" stroke="#333333" stroke-width="0.63" stroke-linejoin="round">56</text>
<text transform="translate(1866.73,1763.60) scale(0.5428,0.5757)" fill="#333333" stroke="#333333" stroke-width="0.63" stroke-linejoin="round">57</text>
<text transform="translate(2368.25,1763.60) scale(0.5376,0.5757)" fill="#333333" stroke="#333333" stroke-width="0.63" stroke-linejoin="round">58</text>
<text transform="translate(1714.28,1821.20) scale(0.6102,0.5913)" fill="#262626" stroke="#262626" stroke-width="0.50" stroke-linejoin="round">Time (hours)</text>
<text transform="translate(1759.10,1000.30) scale(0.6809,0.7188)" fill="#141414" stroke="#141414" stroke-width="2.14" stroke-linejoin="round">After SDS</text>
<text transform="translate(1270.50,1435.21) rotate(-90) scale(0.5342,0.5652)" fill="#333333" stroke="#333333" stroke-width="0.64" stroke-linejoin="round">pH (mV)</text>
</g>
</g>
</svg>
</body></html>
